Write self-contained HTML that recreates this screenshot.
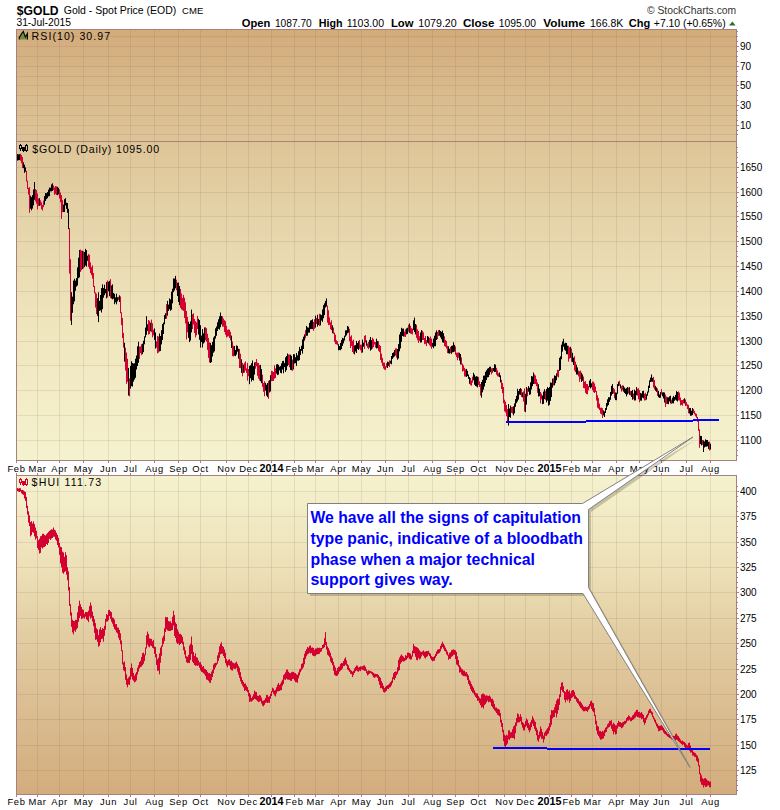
<!DOCTYPE html><html><head><meta charset="utf-8"><style>html,body{margin:0;padding:0;background:#fff;}svg{display:block;}text{font-family:"Liberation Sans",sans-serif;}.m{font-family:"Liberation Mono",monospace;}</style></head><body>
<svg width="780" height="810" viewBox="0 0 780 810">
<defs><linearGradient id="gt" x1="0" y1="0" x2="0" y2="1"><stop offset="0" stop-color="#d3ab7a"/><stop offset="0.14" stop-color="#d9ba8c"/><stop offset="0.35" stop-color="#e1cca0"/><stop offset="0.5" stop-color="#e8d8af"/><stop offset="0.7" stop-color="#f0e6be"/><stop offset="1" stop-color="#f5f2cf"/></linearGradient><linearGradient id="gb" x1="0" y1="0" x2="0" y2="1"><stop offset="0" stop-color="#f5f2cf"/><stop offset="0.3" stop-color="#eddfb6"/><stop offset="0.5" stop-color="#e2cda2"/><stop offset="0.75" stop-color="#dabc90"/><stop offset="1" stop-color="#d3ac7c"/></linearGradient></defs>
<rect width="780" height="810" fill="#fff"/>
<rect x="16" y="29" width="721" height="432" fill="url(#gt)"/>
<rect x="16" y="475" width="721" height="320" fill="url(#gb)"/>
<g shape-rendering="crispEdges"><rect x="17" y="134" width="719" height="1" fill="rgba(105,85,95,0.13)"/><rect x="17" y="125" width="719" height="1" fill="rgba(105,85,95,0.13)"/><rect x="17" y="115" width="719" height="1" fill="rgba(105,85,95,0.13)"/><rect x="17" y="105" width="719" height="1" fill="rgba(105,85,95,0.13)"/><rect x="17" y="95" width="719" height="1" fill="rgba(105,85,95,0.13)"/><rect x="17" y="85" width="719" height="1" fill="rgba(105,85,95,0.13)"/><rect x="17" y="76" width="719" height="1" fill="rgba(105,85,95,0.13)"/><rect x="17" y="66" width="719" height="1" fill="rgba(105,85,95,0.13)"/><rect x="17" y="56" width="719" height="1" fill="rgba(105,85,95,0.13)"/><rect x="17" y="46" width="719" height="1" fill="rgba(105,85,95,0.13)"/><rect x="17" y="36" width="719" height="1" fill="rgba(105,85,95,0.13)"/><rect x="17" y="167" width="719" height="1" fill="rgba(105,85,95,0.13)"/><rect x="17" y="192" width="719" height="1" fill="rgba(105,85,95,0.13)"/><rect x="17" y="216" width="719" height="1" fill="rgba(105,85,95,0.13)"/><rect x="17" y="241" width="719" height="1" fill="rgba(105,85,95,0.13)"/><rect x="17" y="266" width="719" height="1" fill="rgba(105,85,95,0.13)"/><rect x="17" y="291" width="719" height="1" fill="rgba(105,85,95,0.13)"/><rect x="17" y="316" width="719" height="1" fill="rgba(105,85,95,0.13)"/><rect x="17" y="341" width="719" height="1" fill="rgba(105,85,95,0.13)"/><rect x="17" y="365" width="719" height="1" fill="rgba(105,85,95,0.13)"/><rect x="17" y="390" width="719" height="1" fill="rgba(105,85,95,0.13)"/><rect x="17" y="415" width="719" height="1" fill="rgba(105,85,95,0.13)"/><rect x="17" y="440" width="719" height="1" fill="rgba(105,85,95,0.13)"/><rect x="17" y="491" width="719" height="1" fill="rgba(105,85,95,0.13)"/><rect x="17" y="516" width="719" height="1" fill="rgba(105,85,95,0.13)"/><rect x="17" y="542" width="719" height="1" fill="rgba(105,85,95,0.13)"/><rect x="17" y="567" width="719" height="1" fill="rgba(105,85,95,0.13)"/><rect x="17" y="592" width="719" height="1" fill="rgba(105,85,95,0.13)"/><rect x="17" y="618" width="719" height="1" fill="rgba(105,85,95,0.13)"/><rect x="17" y="643" width="719" height="1" fill="rgba(105,85,95,0.13)"/><rect x="17" y="669" width="719" height="1" fill="rgba(105,85,95,0.13)"/><rect x="17" y="694" width="719" height="1" fill="rgba(105,85,95,0.13)"/><rect x="17" y="719" width="719" height="1" fill="rgba(105,85,95,0.13)"/><rect x="17" y="745" width="719" height="1" fill="rgba(105,85,95,0.13)"/><rect x="17" y="770" width="719" height="1" fill="rgba(105,85,95,0.13)"/><rect x="37" y="30" width="1" height="430" fill="rgba(105,85,95,0.13)"/><rect x="37" y="476" width="1" height="318" fill="rgba(105,85,95,0.13)"/><rect x="59" y="30" width="1" height="430" fill="rgba(105,85,95,0.13)"/><rect x="59" y="476" width="1" height="318" fill="rgba(105,85,95,0.13)"/><rect x="83" y="30" width="1" height="430" fill="rgba(105,85,95,0.13)"/><rect x="83" y="476" width="1" height="318" fill="rgba(105,85,95,0.13)"/><rect x="108" y="30" width="1" height="430" fill="rgba(105,85,95,0.13)"/><rect x="108" y="476" width="1" height="318" fill="rgba(105,85,95,0.13)"/><rect x="130" y="30" width="1" height="430" fill="rgba(105,85,95,0.13)"/><rect x="130" y="476" width="1" height="318" fill="rgba(105,85,95,0.13)"/><rect x="154" y="30" width="1" height="430" fill="rgba(105,85,95,0.13)"/><rect x="154" y="476" width="1" height="318" fill="rgba(105,85,95,0.13)"/><rect x="178" y="30" width="1" height="430" fill="rgba(105,85,95,0.13)"/><rect x="178" y="476" width="1" height="318" fill="rgba(105,85,95,0.13)"/><rect x="200" y="30" width="1" height="430" fill="rgba(105,85,95,0.13)"/><rect x="200" y="476" width="1" height="318" fill="rgba(105,85,95,0.13)"/><rect x="226" y="30" width="1" height="430" fill="rgba(105,85,95,0.13)"/><rect x="226" y="476" width="1" height="318" fill="rgba(105,85,95,0.13)"/><rect x="248" y="30" width="1" height="430" fill="rgba(105,85,95,0.13)"/><rect x="248" y="476" width="1" height="318" fill="rgba(105,85,95,0.13)"/><rect x="271" y="30" width="1" height="430" fill="rgba(105,85,95,0.13)"/><rect x="271" y="476" width="1" height="318" fill="rgba(105,85,95,0.13)"/><rect x="294" y="30" width="1" height="430" fill="rgba(105,85,95,0.13)"/><rect x="294" y="476" width="1" height="318" fill="rgba(105,85,95,0.13)"/><rect x="315" y="30" width="1" height="430" fill="rgba(105,85,95,0.13)"/><rect x="315" y="476" width="1" height="318" fill="rgba(105,85,95,0.13)"/><rect x="338" y="30" width="1" height="430" fill="rgba(105,85,95,0.13)"/><rect x="338" y="476" width="1" height="318" fill="rgba(105,85,95,0.13)"/><rect x="361" y="30" width="1" height="430" fill="rgba(105,85,95,0.13)"/><rect x="361" y="476" width="1" height="318" fill="rgba(105,85,95,0.13)"/><rect x="385" y="30" width="1" height="430" fill="rgba(105,85,95,0.13)"/><rect x="385" y="476" width="1" height="318" fill="rgba(105,85,95,0.13)"/><rect x="408" y="30" width="1" height="430" fill="rgba(105,85,95,0.13)"/><rect x="408" y="476" width="1" height="318" fill="rgba(105,85,95,0.13)"/><rect x="432" y="30" width="1" height="430" fill="rgba(105,85,95,0.13)"/><rect x="432" y="476" width="1" height="318" fill="rgba(105,85,95,0.13)"/><rect x="455" y="30" width="1" height="430" fill="rgba(105,85,95,0.13)"/><rect x="455" y="476" width="1" height="318" fill="rgba(105,85,95,0.13)"/><rect x="478" y="30" width="1" height="430" fill="rgba(105,85,95,0.13)"/><rect x="478" y="476" width="1" height="318" fill="rgba(105,85,95,0.13)"/><rect x="504" y="30" width="1" height="430" fill="rgba(105,85,95,0.13)"/><rect x="504" y="476" width="1" height="318" fill="rgba(105,85,95,0.13)"/><rect x="525" y="30" width="1" height="430" fill="rgba(105,85,95,0.13)"/><rect x="525" y="476" width="1" height="318" fill="rgba(105,85,95,0.13)"/><rect x="549" y="30" width="1" height="430" fill="rgba(105,85,95,0.13)"/><rect x="549" y="476" width="1" height="318" fill="rgba(105,85,95,0.13)"/><rect x="571" y="30" width="1" height="430" fill="rgba(105,85,95,0.13)"/><rect x="571" y="476" width="1" height="318" fill="rgba(105,85,95,0.13)"/><rect x="592" y="30" width="1" height="430" fill="rgba(105,85,95,0.13)"/><rect x="592" y="476" width="1" height="318" fill="rgba(105,85,95,0.13)"/><rect x="616" y="30" width="1" height="430" fill="rgba(105,85,95,0.13)"/><rect x="616" y="476" width="1" height="318" fill="rgba(105,85,95,0.13)"/><rect x="639" y="30" width="1" height="430" fill="rgba(105,85,95,0.13)"/><rect x="639" y="476" width="1" height="318" fill="rgba(105,85,95,0.13)"/><rect x="661" y="30" width="1" height="430" fill="rgba(105,85,95,0.13)"/><rect x="661" y="476" width="1" height="318" fill="rgba(105,85,95,0.13)"/><rect x="686" y="30" width="1" height="430" fill="rgba(105,85,95,0.13)"/><rect x="686" y="476" width="1" height="318" fill="rgba(105,85,95,0.13)"/><rect x="710" y="30" width="1" height="430" fill="rgba(105,85,95,0.13)"/><rect x="710" y="476" width="1" height="318" fill="rgba(105,85,95,0.13)"/></g>
<g fill="#000"><rect x="17" y="154.0" width="1" height="6.6"/><rect x="18" y="154.4" width="1" height="5.8"/><rect x="19" y="154.1" width="1" height="6.0"/><rect x="23" y="162.3" width="1" height="5.9"/><rect x="24" y="164.7" width="1" height="8.1"/><rect x="25" y="167.4" width="1" height="4.3"/><rect x="30" y="195.7" width="1" height="13.0"/><rect x="31" y="197.0" width="1" height="13.4"/><rect x="32" y="195.1" width="1" height="13.5"/><rect x="33" y="189.5" width="1" height="15.8"/><rect x="34" y="182.0" width="1" height="17.7"/><rect x="39" y="198.2" width="1" height="7.6"/><rect x="44" y="196.1" width="1" height="8.7"/><rect x="45" y="193.0" width="1" height="8.0"/><rect x="46" y="193.2" width="1" height="5.9"/><rect x="47" y="192.1" width="1" height="6.1"/><rect x="48" y="189.6" width="1" height="6.8"/><rect x="49" y="187.5" width="1" height="8.6"/><rect x="50" y="187.7" width="1" height="3.7"/><rect x="51" y="184.4" width="1" height="6.9"/><rect x="52" y="183.3" width="1" height="7.6"/><rect x="57" y="186.8" width="1" height="8.4"/><rect x="58" y="187.8" width="1" height="6.5"/><rect x="63" y="204.6" width="1" height="7.4"/><rect x="64" y="199.2" width="1" height="12.8"/><rect x="65" y="198.2" width="1" height="7.2"/><rect x="66" y="202.7" width="1" height="6.2"/><rect x="67" y="203.1" width="1" height="9.7"/><rect x="68" y="208.8" width="1" height="20.3"/><rect x="71" y="292.2" width="1" height="32.7"/><rect x="72" y="296.7" width="1" height="16.1"/><rect x="73" y="280.6" width="1" height="23.7"/><rect x="74" y="278.7" width="1" height="22.7"/><rect x="75" y="280.6" width="1" height="10.2"/><rect x="76" y="278.1" width="1" height="8.5"/><rect x="77" y="267.4" width="1" height="18.1"/><rect x="78" y="257.7" width="1" height="20.5"/><rect x="79" y="250.0" width="1" height="27.4"/><rect x="82" y="250.7" width="1" height="18.4"/><rect x="84" y="252.0" width="1" height="15.1"/><rect x="85" y="248.8" width="1" height="16.7"/><rect x="86" y="250.1" width="1" height="16.4"/><rect x="87" y="255.7" width="1" height="5.2"/><rect x="97" y="298.2" width="1" height="17.6"/><rect x="98" y="292.2" width="1" height="29.9"/><rect x="99" y="300.9" width="1" height="9.9"/><rect x="100" y="295.0" width="1" height="15.4"/><rect x="101" y="288.1" width="1" height="24.4"/><rect x="102" y="284.4" width="1" height="24.7"/><rect x="103" y="288.0" width="1" height="9.7"/><rect x="104" y="284.7" width="1" height="10.5"/><rect x="105" y="289.0" width="1" height="4.2"/><rect x="106" y="282.1" width="1" height="16.2"/><rect x="108" y="281.8" width="1" height="9.5"/><rect x="109" y="280.9" width="1" height="15.2"/><rect x="111" y="285.5" width="1" height="13.0"/><rect x="112" y="284.4" width="1" height="14.9"/><rect x="113" y="292.9" width="1" height="5.8"/><rect x="114" y="293.8" width="1" height="10.4"/><rect x="115" y="297.4" width="1" height="4.9"/><rect x="116" y="293.7" width="1" height="10.6"/><rect x="117" y="297.2" width="1" height="4.2"/><rect x="119" y="295.3" width="1" height="6.7"/><rect x="124" y="342.7" width="1" height="18.9"/><rect x="128" y="367.9" width="1" height="27.6"/><rect x="130" y="366.0" width="1" height="22.6"/><rect x="131" y="361.3" width="1" height="24.8"/><rect x="132" y="362.9" width="1" height="23.7"/><rect x="133" y="363.5" width="1" height="18.1"/><rect x="134" y="363.3" width="1" height="16.3"/><rect x="135" y="358.7" width="1" height="19.1"/><rect x="136" y="355.5" width="1" height="14.0"/><rect x="137" y="346.3" width="1" height="19.7"/><rect x="138" y="341.7" width="1" height="21.1"/><rect x="142" y="343.7" width="1" height="10.4"/><rect x="143" y="340.7" width="1" height="11.4"/><rect x="144" y="336.4" width="1" height="7.9"/><rect x="145" y="327.6" width="1" height="9.8"/><rect x="146" y="316.2" width="1" height="18.6"/><rect x="147" y="324.3" width="1" height="6.6"/><rect x="150" y="322.7" width="1" height="8.6"/><rect x="154" y="328.4" width="1" height="11.5"/><rect x="155" y="332.5" width="1" height="16.0"/><rect x="159" y="333.5" width="1" height="17.9"/><rect x="160" y="336.0" width="1" height="15.0"/><rect x="161" y="330.2" width="1" height="14.2"/><rect x="162" y="324.1" width="1" height="15.8"/><rect x="163" y="322.6" width="1" height="11.4"/><rect x="164" y="315.1" width="1" height="9.2"/><rect x="165" y="313.2" width="1" height="5.6"/><rect x="167" y="300.9" width="1" height="14.7"/><rect x="168" y="304.6" width="1" height="6.3"/><rect x="169" y="298.4" width="1" height="10.7"/><rect x="170" y="299.4" width="1" height="11.4"/><rect x="171" y="291.7" width="1" height="18.1"/><rect x="172" y="288.7" width="1" height="14.6"/><rect x="173" y="278.4" width="1" height="13.7"/><rect x="174" y="278.6" width="1" height="11.9"/><rect x="175" y="275.9" width="1" height="12.4"/><rect x="177" y="282.7" width="1" height="13.3"/><rect x="178" y="282.6" width="1" height="19.4"/><rect x="179" y="286.0" width="1" height="19.2"/><rect x="188" y="321.7" width="1" height="16.2"/><rect x="189" y="324.0" width="1" height="18.1"/><rect x="190" y="321.4" width="1" height="19.1"/><rect x="191" y="309.6" width="1" height="22.8"/><rect x="198" y="318.8" width="1" height="15.6"/><rect x="199" y="320.0" width="1" height="19.8"/><rect x="200" y="325.2" width="1" height="22.4"/><rect x="201" y="335.6" width="1" height="6.5"/><rect x="202" y="329.1" width="1" height="18.4"/><rect x="203" y="333.3" width="1" height="10.2"/><rect x="204" y="327.5" width="1" height="14.9"/><rect x="210" y="342.9" width="1" height="20.1"/><rect x="211" y="345.2" width="1" height="16.9"/><rect x="212" y="341.9" width="1" height="14.6"/><rect x="213" y="337.5" width="1" height="15.2"/><rect x="214" y="336.1" width="1" height="15.2"/><rect x="215" y="328.3" width="1" height="10.3"/><rect x="216" y="326.5" width="1" height="9.3"/><rect x="217" y="322.3" width="1" height="8.7"/><rect x="218" y="319.3" width="1" height="9.5"/><rect x="219" y="316.4" width="1" height="13.2"/><rect x="220" y="312.5" width="1" height="14.7"/><rect x="221" y="316.0" width="1" height="8.3"/><rect x="231" y="335.6" width="1" height="12.4"/><rect x="234" y="346.0" width="1" height="9.7"/><rect x="235" y="350.0" width="1" height="6.1"/><rect x="236" y="345.4" width="1" height="9.2"/><rect x="237" y="345.9" width="1" height="5.8"/><rect x="238" y="348.7" width="1" height="10.0"/><rect x="241" y="359.3" width="1" height="13.6"/><rect x="243" y="364.6" width="1" height="8.2"/><rect x="249" y="365.9" width="1" height="18.3"/><rect x="250" y="365.2" width="1" height="13.1"/><rect x="251" y="363.3" width="1" height="18.2"/><rect x="252" y="360.5" width="1" height="19.5"/><rect x="253" y="366.1" width="1" height="14.4"/><rect x="254" y="362.5" width="1" height="12.1"/><rect x="260" y="364.8" width="1" height="16.4"/><rect x="261" y="369.0" width="1" height="14.2"/><rect x="265" y="382.8" width="1" height="7.9"/><rect x="266" y="384.7" width="1" height="10.9"/><rect x="267" y="383.0" width="1" height="14.1"/><rect x="269" y="380.2" width="1" height="12.3"/><rect x="270" y="375.2" width="1" height="16.3"/><rect x="276" y="364.4" width="1" height="9.2"/><rect x="277" y="364.1" width="1" height="11.0"/><rect x="278" y="364.8" width="1" height="9.8"/><rect x="279" y="366.7" width="1" height="3.7"/><rect x="280" y="366.1" width="1" height="6.7"/><rect x="281" y="363.4" width="1" height="9.9"/><rect x="282" y="361.1" width="1" height="8.4"/><rect x="283" y="360.8" width="1" height="12.5"/><rect x="284" y="363.1" width="1" height="4.0"/><rect x="285" y="357.3" width="1" height="14.6"/><rect x="286" y="356.0" width="1" height="14.2"/><rect x="287" y="353.5" width="1" height="12.7"/><rect x="290" y="354.7" width="1" height="15.2"/><rect x="291" y="355.8" width="1" height="14.4"/><rect x="293" y="354.1" width="1" height="15.3"/><rect x="294" y="354.3" width="1" height="9.2"/><rect x="295" y="357.2" width="1" height="6.0"/><rect x="296" y="353.0" width="1" height="12.9"/><rect x="297" y="355.3" width="1" height="5.3"/><rect x="298" y="351.2" width="1" height="9.6"/><rect x="299" y="346.9" width="1" height="13.2"/><rect x="300" y="349.0" width="1" height="6.0"/><rect x="301" y="345.7" width="1" height="5.1"/><rect x="302" y="339.4" width="1" height="14.2"/><rect x="303" y="336.7" width="1" height="12.3"/><rect x="304" y="334.4" width="1" height="6.2"/><rect x="306" y="325.9" width="1" height="9.9"/><rect x="307" y="327.3" width="1" height="8.4"/><rect x="308" y="327.6" width="1" height="5.1"/><rect x="309" y="322.8" width="1" height="9.8"/><rect x="310" y="320.5" width="1" height="8.6"/><rect x="311" y="320.1" width="1" height="8.8"/><rect x="312" y="319.3" width="1" height="9.8"/><rect x="315" y="315.7" width="1" height="11.9"/><rect x="317" y="314.7" width="1" height="11.9"/><rect x="318" y="318.9" width="1" height="6.0"/><rect x="320" y="314.3" width="1" height="11.1"/><rect x="321" y="315.1" width="1" height="5.4"/><rect x="322" y="309.4" width="1" height="12.5"/><rect x="323" y="305.1" width="1" height="13.2"/><rect x="324" y="303.3" width="1" height="11.8"/><rect x="325" y="300.9" width="1" height="6.6"/><rect x="326" y="298.4" width="1" height="8.1"/><rect x="332" y="325.4" width="1" height="7.8"/><rect x="338" y="344.2" width="1" height="6.1"/><rect x="339" y="346.0" width="1" height="3.9"/><rect x="340" y="342.9" width="1" height="7.4"/><rect x="341" y="339.9" width="1" height="9.2"/><rect x="342" y="337.8" width="1" height="8.1"/><rect x="343" y="338.4" width="1" height="5.0"/><rect x="344" y="335.7" width="1" height="4.9"/><rect x="345" y="330.4" width="1" height="6.3"/><rect x="346" y="330.2" width="1" height="5.2"/><rect x="347" y="326.0" width="1" height="7.3"/><rect x="348" y="326.7" width="1" height="5.9"/><rect x="354" y="345.5" width="1" height="8.9"/><rect x="355" y="345.1" width="1" height="6.4"/><rect x="356" y="340.9" width="1" height="12.1"/><rect x="357" y="343.0" width="1" height="5.9"/><rect x="358" y="341.2" width="1" height="8.8"/><rect x="362" y="339.6" width="1" height="12.9"/><rect x="363" y="342.7" width="1" height="4.0"/><rect x="366" y="340.4" width="1" height="5.3"/><rect x="369" y="339.8" width="1" height="7.8"/><rect x="370" y="337.0" width="1" height="13.7"/><rect x="371" y="340.1" width="1" height="9.4"/><rect x="376" y="338.7" width="1" height="9.7"/><rect x="377" y="341.0" width="1" height="7.2"/><rect x="387" y="361.6" width="1" height="6.3"/><rect x="388" y="362.1" width="1" height="3.7"/><rect x="390" y="360.7" width="1" height="2.9"/><rect x="391" y="356.0" width="1" height="8.3"/><rect x="392" y="353.0" width="1" height="5.9"/><rect x="393" y="352.3" width="1" height="5.2"/><rect x="394" y="350.0" width="1" height="6.4"/><rect x="397" y="349.0" width="1" height="10.7"/><rect x="398" y="344.1" width="1" height="14.4"/><rect x="399" y="334.5" width="1" height="16.8"/><rect x="400" y="332.0" width="1" height="16.4"/><rect x="401" y="327.8" width="1" height="14.0"/><rect x="402" y="328.7" width="1" height="7.2"/><rect x="403" y="328.5" width="1" height="8.1"/><rect x="406" y="328.4" width="1" height="6.0"/><rect x="407" y="327.7" width="1" height="6.2"/><rect x="409" y="323.5" width="1" height="9.3"/><rect x="413" y="320.3" width="1" height="9.7"/><rect x="414" y="317.6" width="1" height="14.5"/><rect x="415" y="324.0" width="1" height="10.4"/><rect x="420" y="332.5" width="1" height="10.1"/><rect x="421" y="330.1" width="1" height="12.2"/><rect x="427" y="336.0" width="1" height="6.7"/><rect x="428" y="336.7" width="1" height="6.8"/><rect x="432" y="342.9" width="1" height="3.8"/><rect x="433" y="338.6" width="1" height="9.6"/><rect x="434" y="335.7" width="1" height="10.6"/><rect x="435" y="332.5" width="1" height="13.7"/><rect x="436" y="330.4" width="1" height="9.6"/><rect x="439" y="330.0" width="1" height="5.7"/><rect x="440" y="331.0" width="1" height="6.4"/><rect x="441" y="331.8" width="1" height="7.5"/><rect x="442" y="330.6" width="1" height="11.7"/><rect x="443" y="333.2" width="1" height="9.5"/><rect x="448" y="346.3" width="1" height="7.0"/><rect x="449" y="348.8" width="1" height="4.8"/><rect x="451" y="345.9" width="1" height="7.9"/><rect x="452" y="345.6" width="1" height="6.7"/><rect x="453" y="342.2" width="1" height="9.9"/><rect x="454" y="344.9" width="1" height="6.7"/><rect x="459" y="352.8" width="1" height="7.8"/><rect x="460" y="354.0" width="1" height="10.4"/><rect x="466" y="368.9" width="1" height="8.0"/><rect x="467" y="370.8" width="1" height="5.3"/><rect x="468" y="374.5" width="1" height="4.3"/><rect x="469" y="377.1" width="1" height="6.7"/><rect x="473" y="372.8" width="1" height="7.5"/><rect x="474" y="374.6" width="1" height="10.1"/><rect x="475" y="376.7" width="1" height="9.3"/><rect x="476" y="376.1" width="1" height="10.4"/><rect x="477" y="376.6" width="1" height="10.8"/><rect x="481" y="382.0" width="1" height="15.6"/><rect x="482" y="379.9" width="1" height="12.4"/><rect x="483" y="375.7" width="1" height="14.0"/><rect x="484" y="375.5" width="1" height="11.0"/><rect x="485" y="371.8" width="1" height="11.2"/><rect x="486" y="370.3" width="1" height="9.7"/><rect x="487" y="368.7" width="1" height="8.7"/><rect x="488" y="368.1" width="1" height="9.0"/><rect x="489" y="366.8" width="1" height="8.1"/><rect x="490" y="366.7" width="1" height="5.5"/><rect x="493" y="368.0" width="1" height="3.2"/><rect x="494" y="364.2" width="1" height="7.8"/><rect x="495" y="364.6" width="1" height="7.3"/><rect x="499" y="372.5" width="1" height="4.6"/><rect x="500" y="375.3" width="1" height="7.2"/><rect x="508" y="404.0" width="1" height="21.6"/><rect x="509" y="408.5" width="1" height="8.5"/><rect x="510" y="405.6" width="1" height="12.2"/><rect x="513" y="406.3" width="1" height="9.0"/><rect x="514" y="403.4" width="1" height="9.9"/><rect x="515" y="399.1" width="1" height="7.7"/><rect x="516" y="395.8" width="1" height="7.4"/><rect x="517" y="388.8" width="1" height="12.7"/><rect x="518" y="390.9" width="1" height="8.7"/><rect x="519" y="389.0" width="1" height="5.6"/><rect x="520" y="388.1" width="1" height="6.8"/><rect x="522" y="392.4" width="1" height="4.9"/><rect x="525" y="393.8" width="1" height="18.3"/><rect x="526" y="387.1" width="1" height="17.5"/><rect x="528" y="386.1" width="1" height="5.6"/><rect x="529" y="387.6" width="1" height="7.3"/><rect x="530" y="382.3" width="1" height="12.0"/><rect x="531" y="376.0" width="1" height="13.5"/><rect x="532" y="376.5" width="1" height="9.7"/><rect x="533" y="372.5" width="1" height="11.5"/><rect x="538" y="384.2" width="1" height="12.3"/><rect x="539" y="388.7" width="1" height="7.5"/><rect x="542" y="395.5" width="1" height="8.7"/><rect x="543" y="391.6" width="1" height="12.2"/><rect x="544" y="389.2" width="1" height="9.9"/><rect x="546" y="389.0" width="1" height="13.4"/><rect x="547" y="387.1" width="1" height="13.5"/><rect x="548" y="388.1" width="1" height="17.6"/><rect x="549" y="386.9" width="1" height="17.9"/><rect x="550" y="382.4" width="1" height="18.5"/><rect x="551" y="382.8" width="1" height="14.3"/><rect x="552" y="378.6" width="1" height="9.1"/><rect x="554" y="375.4" width="1" height="9.9"/><rect x="555" y="375.9" width="1" height="7.3"/><rect x="556" y="373.4" width="1" height="6.9"/><rect x="559" y="357.8" width="1" height="13.1"/><rect x="560" y="356.4" width="1" height="13.6"/><rect x="561" y="344.7" width="1" height="14.5"/><rect x="562" y="341.5" width="1" height="10.1"/><rect x="563" y="338.8" width="1" height="7.9"/><rect x="564" y="343.5" width="1" height="6.2"/><rect x="565" y="342.7" width="1" height="8.2"/><rect x="566" y="343.0" width="1" height="11.2"/><rect x="567" y="345.6" width="1" height="8.7"/><rect x="570" y="346.8" width="1" height="11.0"/><rect x="572" y="352.8" width="1" height="9.3"/><rect x="573" y="357.6" width="1" height="7.4"/><rect x="576" y="364.7" width="1" height="9.8"/><rect x="577" y="367.4" width="1" height="7.2"/><rect x="581" y="372.6" width="1" height="9.3"/><rect x="582" y="374.4" width="1" height="6.4"/><rect x="589" y="380.6" width="1" height="6.5"/><rect x="590" y="379.0" width="1" height="9.4"/><rect x="591" y="383.3" width="1" height="4.0"/><rect x="603" y="410.4" width="1" height="5.0"/><rect x="604" y="411.4" width="1" height="5.6"/><rect x="605" y="408.0" width="1" height="5.0"/><rect x="606" y="403.0" width="1" height="6.9"/><rect x="607" y="399.3" width="1" height="7.1"/><rect x="608" y="397.2" width="1" height="7.8"/><rect x="609" y="397.3" width="1" height="4.5"/><rect x="610" y="392.0" width="1" height="7.8"/><rect x="611" y="385.8" width="1" height="9.8"/><rect x="612" y="384.1" width="1" height="9.9"/><rect x="615" y="392.4" width="1" height="7.7"/><rect x="616" y="392.7" width="1" height="7.5"/><rect x="617" y="384.1" width="1" height="9.7"/><rect x="618" y="381.8" width="1" height="4.3"/><rect x="620" y="384.4" width="1" height="4.1"/><rect x="623" y="385.7" width="1" height="6.0"/><rect x="624" y="387.5" width="1" height="5.4"/><rect x="625" y="388.7" width="1" height="5.3"/><rect x="626" y="388.1" width="1" height="8.3"/><rect x="627" y="387.0" width="1" height="7.4"/><rect x="629" y="387.2" width="1" height="7.6"/><rect x="631" y="391.0" width="1" height="6.0"/><rect x="632" y="389.9" width="1" height="9.8"/><rect x="634" y="389.6" width="1" height="10.9"/><rect x="635" y="390.9" width="1" height="9.5"/><rect x="636" y="387.1" width="1" height="8.1"/><rect x="640" y="392.9" width="1" height="7.7"/><rect x="641" y="393.5" width="1" height="7.2"/><rect x="642" y="391.1" width="1" height="6.5"/><rect x="643" y="390.8" width="1" height="7.6"/><rect x="646" y="394.3" width="1" height="5.3"/><rect x="647" y="391.5" width="1" height="4.2"/><rect x="648" y="385.6" width="1" height="6.9"/><rect x="649" y="380.4" width="1" height="7.6"/><rect x="650" y="377.6" width="1" height="4.4"/><rect x="651" y="374.5" width="1" height="7.2"/><rect x="652" y="377.9" width="1" height="3.9"/><rect x="655" y="385.7" width="1" height="5.0"/><rect x="656" y="387.4" width="1" height="4.4"/><rect x="658" y="390.9" width="1" height="6.3"/><rect x="659" y="394.4" width="1" height="3.5"/><rect x="660" y="392.1" width="1" height="5.6"/><rect x="662" y="392.4" width="1" height="3.9"/><rect x="663" y="392.2" width="1" height="6.3"/><rect x="664" y="392.5" width="1" height="10.0"/><rect x="667" y="397.3" width="1" height="6.5"/><rect x="668" y="397.4" width="1" height="6.8"/><rect x="669" y="396.3" width="1" height="5.2"/><rect x="670" y="395.7" width="1" height="7.7"/><rect x="672" y="397.7" width="1" height="5.5"/><rect x="673" y="395.9" width="1" height="7.5"/><rect x="674" y="397.0" width="1" height="3.9"/><rect x="675" y="394.9" width="1" height="4.8"/><rect x="676" y="391.1" width="1" height="9.5"/><rect x="677" y="392.0" width="1" height="9.5"/><rect x="684" y="398.2" width="1" height="5.3"/><rect x="689" y="407.9" width="1" height="5.7"/><rect x="690" y="408.0" width="1" height="7.8"/><rect x="691" y="410.7" width="1" height="4.9"/><rect x="692" y="408.0" width="1" height="7.0"/><rect x="700" y="435.8" width="1" height="8.3"/><rect x="701" y="436.1" width="1" height="9.4"/><rect x="703" y="440.4" width="1" height="11.6"/><rect x="704" y="441.4" width="1" height="6.1"/><rect x="705" y="439.3" width="1" height="7.4"/><rect x="706" y="440.0" width="1" height="6.7"/><rect x="707" y="440.0" width="1" height="6.3"/><rect x="708" y="441.8" width="1" height="7.1"/><rect x="710" y="443.6" width="1" height="6.0"/></g>
<g fill="#d40032"><rect x="20" y="153.8" width="1" height="6.9"/><rect x="21" y="155.0" width="1" height="8.3"/><rect x="22" y="157.0" width="1" height="10.9"/><rect x="26" y="170.8" width="1" height="10.8"/><rect x="27" y="180.6" width="1" height="8.4"/><rect x="28" y="187.9" width="1" height="6.7"/><rect x="29" y="187.2" width="1" height="25.6"/><rect x="35" y="189.1" width="1" height="12.4"/><rect x="36" y="190.0" width="1" height="13.7"/><rect x="37" y="193.5" width="1" height="15.9"/><rect x="38" y="198.4" width="1" height="7.5"/><rect x="40" y="200.3" width="1" height="5.2"/><rect x="41" y="202.4" width="1" height="6.8"/><rect x="42" y="205.0" width="1" height="5.5"/><rect x="43" y="200.6" width="1" height="6.5"/><rect x="53" y="185.5" width="1" height="4.6"/><rect x="54" y="187.4" width="1" height="7.5"/><rect x="55" y="186.1" width="1" height="7.8"/><rect x="56" y="186.3" width="1" height="8.7"/><rect x="59" y="189.3" width="1" height="9.2"/><rect x="60" y="192.6" width="1" height="9.7"/><rect x="61" y="195.1" width="1" height="23.8"/><rect x="62" y="200.1" width="1" height="12.2"/><rect x="69" y="228.1" width="1" height="45.5"/><rect x="70" y="259.2" width="1" height="61.5"/><rect x="80" y="249.6" width="1" height="22.3"/><rect x="81" y="250.7" width="1" height="19.5"/><rect x="83" y="251.3" width="1" height="17.0"/><rect x="88" y="254.0" width="1" height="12.9"/><rect x="89" y="254.8" width="1" height="14.2"/><rect x="90" y="262.4" width="1" height="10.7"/><rect x="91" y="267.2" width="1" height="7.9"/><rect x="92" y="265.4" width="1" height="13.1"/><rect x="93" y="273.0" width="1" height="14.0"/><rect x="94" y="286.0" width="1" height="7.4"/><rect x="95" y="292.4" width="1" height="15.2"/><rect x="96" y="293.6" width="1" height="20.4"/><rect x="107" y="280.4" width="1" height="17.1"/><rect x="110" y="279.1" width="1" height="18.8"/><rect x="118" y="296.9" width="1" height="3.2"/><rect x="120" y="296.4" width="1" height="16.9"/><rect x="121" y="312.3" width="1" height="12.8"/><rect x="122" y="318.0" width="1" height="20.0"/><rect x="123" y="332.9" width="1" height="14.8"/><rect x="125" y="347.6" width="1" height="22.9"/><rect x="126" y="352.5" width="1" height="31.4"/><rect x="127" y="358.7" width="1" height="23.1"/><rect x="129" y="378.4" width="1" height="17.9"/><rect x="139" y="346.5" width="1" height="12.4"/><rect x="140" y="346.5" width="1" height="6.7"/><rect x="141" y="344.2" width="1" height="11.0"/><rect x="148" y="320.0" width="1" height="14.6"/><rect x="149" y="320.7" width="1" height="13.3"/><rect x="151" y="319.6" width="1" height="12.7"/><rect x="152" y="323.2" width="1" height="14.1"/><rect x="153" y="329.7" width="1" height="5.6"/><rect x="156" y="341.4" width="1" height="6.3"/><rect x="157" y="335.9" width="1" height="17.4"/><rect x="158" y="336.5" width="1" height="16.1"/><rect x="166" y="304.2" width="1" height="14.6"/><rect x="176" y="279.7" width="1" height="10.6"/><rect x="180" y="288.9" width="1" height="19.0"/><rect x="181" y="293.4" width="1" height="16.1"/><rect x="182" y="297.8" width="1" height="12.5"/><rect x="183" y="294.9" width="1" height="16.0"/><rect x="184" y="297.8" width="1" height="20.2"/><rect x="185" y="302.4" width="1" height="21.1"/><rect x="186" y="311.0" width="1" height="28.5"/><rect x="187" y="316.8" width="1" height="15.5"/><rect x="192" y="314.2" width="1" height="14.8"/><rect x="193" y="313.3" width="1" height="11.2"/><rect x="194" y="318.9" width="1" height="14.1"/><rect x="195" y="321.2" width="1" height="16.2"/><rect x="196" y="322.3" width="1" height="13.0"/><rect x="197" y="315.9" width="1" height="13.1"/><rect x="205" y="327.2" width="1" height="13.1"/><rect x="206" y="328.1" width="1" height="13.5"/><rect x="207" y="333.8" width="1" height="16.1"/><rect x="208" y="337.9" width="1" height="20.0"/><rect x="209" y="342.3" width="1" height="20.2"/><rect x="222" y="316.3" width="1" height="10.3"/><rect x="223" y="318.5" width="1" height="8.2"/><rect x="224" y="320.1" width="1" height="11.9"/><rect x="225" y="321.2" width="1" height="13.6"/><rect x="226" y="325.8" width="1" height="11.6"/><rect x="227" y="329.9" width="1" height="6.7"/><rect x="228" y="329.4" width="1" height="7.0"/><rect x="229" y="329.7" width="1" height="8.3"/><rect x="230" y="331.8" width="1" height="8.6"/><rect x="232" y="341.4" width="1" height="14.6"/><rect x="233" y="345.7" width="1" height="10.8"/><rect x="239" y="349.0" width="1" height="19.0"/><rect x="240" y="353.7" width="1" height="14.5"/><rect x="242" y="362.9" width="1" height="13.4"/><rect x="244" y="362.7" width="1" height="10.0"/><rect x="245" y="361.4" width="1" height="9.1"/><rect x="246" y="368.4" width="1" height="4.4"/><rect x="247" y="362.9" width="1" height="17.8"/><rect x="248" y="369.0" width="1" height="7.2"/><rect x="255" y="362.0" width="1" height="6.7"/><rect x="256" y="359.0" width="1" height="7.3"/><rect x="257" y="362.6" width="1" height="13.2"/><rect x="258" y="363.1" width="1" height="15.5"/><rect x="259" y="365.0" width="1" height="15.5"/><rect x="262" y="374.7" width="1" height="12.2"/><rect x="263" y="383.0" width="1" height="8.8"/><rect x="264" y="381.2" width="1" height="15.1"/><rect x="268" y="380.9" width="1" height="17.9"/><rect x="271" y="370.9" width="1" height="10.2"/><rect x="272" y="371.2" width="1" height="9.8"/><rect x="273" y="372.0" width="1" height="8.9"/><rect x="274" y="365.3" width="1" height="13.3"/><rect x="275" y="368.4" width="1" height="9.6"/><rect x="288" y="354.4" width="1" height="10.6"/><rect x="289" y="354.5" width="1" height="12.8"/><rect x="292" y="359.6" width="1" height="11.2"/><rect x="305" y="330.1" width="1" height="8.2"/><rect x="313" y="322.0" width="1" height="8.8"/><rect x="314" y="319.2" width="1" height="9.6"/><rect x="316" y="317.9" width="1" height="6.1"/><rect x="319" y="313.8" width="1" height="12.1"/><rect x="327" y="305.6" width="1" height="17.1"/><rect x="328" y="310.2" width="1" height="14.9"/><rect x="329" y="317.4" width="1" height="7.4"/><rect x="330" y="322.3" width="1" height="7.0"/><rect x="331" y="320.3" width="1" height="9.9"/><rect x="333" y="327.6" width="1" height="6.3"/><rect x="334" y="332.7" width="1" height="9.2"/><rect x="335" y="334.7" width="1" height="9.4"/><rect x="336" y="340.3" width="1" height="4.0"/><rect x="337" y="341.2" width="1" height="4.0"/><rect x="349" y="328.8" width="1" height="12.5"/><rect x="350" y="336.5" width="1" height="11.5"/><rect x="351" y="335.3" width="1" height="10.6"/><rect x="352" y="340.8" width="1" height="11.2"/><rect x="353" y="339.6" width="1" height="14.0"/><rect x="359" y="340.0" width="1" height="8.7"/><rect x="360" y="344.6" width="1" height="5.7"/><rect x="361" y="344.6" width="1" height="8.3"/><rect x="364" y="335.8" width="1" height="13.1"/><rect x="365" y="335.1" width="1" height="7.5"/><rect x="367" y="343.5" width="1" height="4.3"/><rect x="368" y="341.8" width="1" height="7.4"/><rect x="372" y="337.6" width="1" height="11.0"/><rect x="373" y="339.1" width="1" height="8.0"/><rect x="374" y="341.7" width="1" height="2.8"/><rect x="375" y="342.1" width="1" height="5.5"/><rect x="378" y="341.2" width="1" height="9.6"/><rect x="379" y="344.9" width="1" height="7.2"/><rect x="380" y="346.0" width="1" height="13.9"/><rect x="381" y="353.6" width="1" height="9.1"/><rect x="382" y="357.9" width="1" height="8.0"/><rect x="383" y="362.5" width="1" height="6.0"/><rect x="384" y="362.6" width="1" height="7.0"/><rect x="385" y="366.2" width="1" height="3.9"/><rect x="386" y="363.2" width="1" height="4.3"/><rect x="389" y="360.3" width="1" height="6.8"/><rect x="395" y="348.3" width="1" height="7.3"/><rect x="396" y="348.4" width="1" height="9.2"/><rect x="404" y="331.5" width="1" height="5.1"/><rect x="405" y="329.3" width="1" height="7.7"/><rect x="408" y="324.7" width="1" height="7.0"/><rect x="410" y="325.8" width="1" height="7.9"/><rect x="411" y="328.2" width="1" height="5.7"/><rect x="412" y="328.7" width="1" height="5.8"/><rect x="416" y="324.8" width="1" height="13.1"/><rect x="417" y="329.3" width="1" height="10.9"/><rect x="418" y="331.0" width="1" height="12.0"/><rect x="419" y="336.2" width="1" height="4.6"/><rect x="422" y="330.9" width="1" height="9.1"/><rect x="423" y="332.4" width="1" height="7.5"/><rect x="424" y="338.0" width="1" height="6.2"/><rect x="425" y="336.1" width="1" height="7.7"/><rect x="426" y="340.2" width="1" height="5.9"/><rect x="429" y="338.0" width="1" height="7.3"/><rect x="430" y="336.5" width="1" height="10.0"/><rect x="431" y="338.6" width="1" height="10.2"/><rect x="437" y="331.9" width="1" height="7.2"/><rect x="438" y="330.0" width="1" height="5.9"/><rect x="444" y="336.3" width="1" height="9.8"/><rect x="445" y="339.9" width="1" height="6.9"/><rect x="446" y="341.0" width="1" height="7.5"/><rect x="447" y="345.7" width="1" height="7.4"/><rect x="450" y="346.9" width="1" height="6.3"/><rect x="455" y="346.5" width="1" height="8.3"/><rect x="456" y="352.7" width="1" height="4.4"/><rect x="457" y="352.6" width="1" height="7.6"/><rect x="458" y="352.4" width="1" height="5.4"/><rect x="461" y="357.4" width="1" height="7.4"/><rect x="462" y="363.6" width="1" height="8.0"/><rect x="463" y="365.2" width="1" height="5.7"/><rect x="464" y="367.8" width="1" height="8.7"/><rect x="465" y="369.3" width="1" height="7.3"/><rect x="470" y="378.0" width="1" height="7.1"/><rect x="471" y="380.5" width="1" height="5.2"/><rect x="472" y="376.7" width="1" height="6.0"/><rect x="478" y="376.9" width="1" height="8.1"/><rect x="479" y="381.2" width="1" height="5.7"/><rect x="480" y="384.0" width="1" height="11.5"/><rect x="491" y="368.3" width="1" height="6.1"/><rect x="492" y="368.1" width="1" height="4.7"/><rect x="496" y="367.8" width="1" height="6.9"/><rect x="497" y="370.3" width="1" height="6.0"/><rect x="498" y="373.3" width="1" height="3.3"/><rect x="501" y="379.8" width="1" height="9.2"/><rect x="502" y="383.0" width="1" height="10.2"/><rect x="503" y="387.0" width="1" height="16.3"/><rect x="504" y="399.6" width="1" height="11.7"/><rect x="505" y="401.6" width="1" height="10.9"/><rect x="506" y="405.0" width="1" height="11.2"/><rect x="507" y="409.0" width="1" height="14.0"/><rect x="511" y="406.9" width="1" height="5.9"/><rect x="512" y="406.8" width="1" height="6.8"/><rect x="521" y="388.9" width="1" height="8.0"/><rect x="523" y="391.4" width="1" height="10.2"/><rect x="524" y="388.4" width="1" height="23.1"/><rect x="527" y="388.4" width="1" height="7.9"/><rect x="534" y="374.3" width="1" height="9.6"/><rect x="535" y="375.5" width="1" height="8.6"/><rect x="536" y="379.0" width="1" height="7.2"/><rect x="537" y="382.5" width="1" height="10.3"/><rect x="540" y="392.0" width="1" height="11.4"/><rect x="541" y="393.6" width="1" height="5.8"/><rect x="545" y="391.1" width="1" height="8.8"/><rect x="553" y="378.4" width="1" height="7.2"/><rect x="557" y="369.8" width="1" height="6.8"/><rect x="558" y="369.9" width="1" height="7.6"/><rect x="568" y="345.8" width="1" height="15.8"/><rect x="569" y="347.4" width="1" height="11.2"/><rect x="571" y="348.6" width="1" height="13.2"/><rect x="574" y="356.2" width="1" height="14.4"/><rect x="575" y="361.6" width="1" height="10.5"/><rect x="578" y="370.6" width="1" height="5.8"/><rect x="579" y="371.1" width="1" height="10.8"/><rect x="580" y="370.6" width="1" height="8.5"/><rect x="583" y="376.6" width="1" height="11.4"/><rect x="584" y="381.7" width="1" height="6.7"/><rect x="585" y="381.1" width="1" height="11.8"/><rect x="586" y="384.0" width="1" height="10.1"/><rect x="587" y="384.0" width="1" height="10.3"/><rect x="588" y="386.1" width="1" height="4.3"/><rect x="592" y="381.6" width="1" height="8.6"/><rect x="593" y="381.7" width="1" height="10.4"/><rect x="594" y="383.4" width="1" height="9.6"/><rect x="595" y="386.5" width="1" height="5.5"/><rect x="596" y="391.0" width="1" height="9.6"/><rect x="597" y="395.2" width="1" height="12.5"/><rect x="598" y="397.9" width="1" height="10.8"/><rect x="599" y="403.6" width="1" height="6.4"/><rect x="600" y="407.8" width="1" height="5.8"/><rect x="601" y="407.6" width="1" height="6.8"/><rect x="602" y="408.2" width="1" height="9.8"/><rect x="613" y="387.9" width="1" height="5.6"/><rect x="614" y="389.2" width="1" height="9.0"/><rect x="619" y="380.7" width="1" height="5.1"/><rect x="621" y="386.2" width="1" height="5.4"/><rect x="622" y="385.2" width="1" height="5.2"/><rect x="628" y="387.6" width="1" height="5.9"/><rect x="630" y="390.9" width="1" height="4.5"/><rect x="633" y="393.5" width="1" height="5.7"/><rect x="637" y="388.7" width="1" height="6.9"/><rect x="638" y="388.2" width="1" height="11.1"/><rect x="639" y="390.1" width="1" height="12.2"/><rect x="644" y="393.7" width="1" height="6.8"/><rect x="645" y="392.8" width="1" height="7.5"/><rect x="653" y="376.8" width="1" height="10.8"/><rect x="654" y="380.0" width="1" height="9.6"/><rect x="657" y="388.4" width="1" height="7.5"/><rect x="661" y="389.1" width="1" height="5.3"/><rect x="665" y="394.5" width="1" height="12.5"/><rect x="666" y="396.5" width="1" height="7.5"/><rect x="671" y="399.6" width="1" height="4.4"/><rect x="678" y="391.4" width="1" height="8.9"/><rect x="679" y="392.6" width="1" height="8.0"/><rect x="680" y="397.5" width="1" height="7.9"/><rect x="681" y="400.1" width="1" height="4.8"/><rect x="682" y="400.0" width="1" height="5.7"/><rect x="683" y="399.2" width="1" height="4.1"/><rect x="685" y="399.5" width="1" height="6.5"/><rect x="686" y="402.1" width="1" height="3.7"/><rect x="687" y="404.3" width="1" height="4.8"/><rect x="688" y="404.9" width="1" height="8.4"/><rect x="693" y="408.9" width="1" height="4.3"/><rect x="694" y="410.9" width="1" height="3.5"/><rect x="695" y="413.2" width="1" height="3.1"/><rect x="696" y="413.8" width="1" height="4.1"/><rect x="697" y="416.9" width="1" height="4.9"/><rect x="698" y="420.8" width="1" height="10.0"/><rect x="699" y="429.2" width="1" height="18.6"/><rect x="702" y="439.9" width="1" height="5.0"/><rect x="709" y="441.6" width="1" height="8.9"/></g>
<g fill="#d40032"><rect x="17" y="488.0" width="1" height="3.1"/><rect x="18" y="488.6" width="1" height="3.0"/><rect x="19" y="488.1" width="1" height="3.9"/><rect x="20" y="488.3" width="1" height="3.2"/><rect x="21" y="490.0" width="1" height="3.3"/><rect x="22" y="489.9" width="1" height="4.4"/><rect x="23" y="490.4" width="1" height="4.5"/><rect x="24" y="491.3" width="1" height="7.2"/><rect x="25" y="492.0" width="1" height="8.9"/><rect x="26" y="496.9" width="1" height="11.2"/><rect x="27" y="505.7" width="1" height="8.9"/><rect x="28" y="511.3" width="1" height="11.2"/><rect x="29" y="515.3" width="1" height="10.8"/><rect x="30" y="522.0" width="1" height="14.4"/><rect x="31" y="521.2" width="1" height="13.9"/><rect x="32" y="523.4" width="1" height="8.7"/><rect x="33" y="521.4" width="1" height="11.4"/><rect x="34" y="524.1" width="1" height="12.3"/><rect x="35" y="527.5" width="1" height="12.1"/><rect x="36" y="530.8" width="1" height="7.4"/><rect x="37" y="536.2" width="1" height="11.9"/><rect x="38" y="540.2" width="1" height="9.7"/><rect x="39" y="538.7" width="1" height="14.8"/><rect x="40" y="536.3" width="1" height="16.6"/><rect x="41" y="535.8" width="1" height="11.6"/><rect x="42" y="533.8" width="1" height="14.8"/><rect x="43" y="533.8" width="1" height="13.5"/><rect x="44" y="534.9" width="1" height="12.1"/><rect x="45" y="535.5" width="1" height="10.5"/><rect x="46" y="534.3" width="1" height="9.7"/><rect x="47" y="533.1" width="1" height="11.9"/><rect x="48" y="531.9" width="1" height="11.0"/><rect x="49" y="530.9" width="1" height="7.9"/><rect x="50" y="530.1" width="1" height="9.9"/><rect x="51" y="529.3" width="1" height="9.3"/><rect x="52" y="529.6" width="1" height="8.4"/><rect x="53" y="527.5" width="1" height="9.3"/><rect x="54" y="529.7" width="1" height="7.0"/><rect x="55" y="530.5" width="1" height="9.0"/><rect x="56" y="532.8" width="1" height="8.0"/><rect x="57" y="534.9" width="1" height="10.1"/><rect x="58" y="537.7" width="1" height="9.8"/><rect x="59" y="543.0" width="1" height="11.9"/><rect x="60" y="546.7" width="1" height="16.7"/><rect x="61" y="547.2" width="1" height="20.2"/><rect x="62" y="551.6" width="1" height="20.9"/><rect x="63" y="552.5" width="1" height="21.3"/><rect x="64" y="556.8" width="1" height="15.3"/><rect x="65" y="552.2" width="1" height="18.9"/><rect x="66" y="555.2" width="1" height="19.5"/><rect x="67" y="567.2" width="1" height="13.1"/><rect x="68" y="571.3" width="1" height="19.3"/><rect x="69" y="587.0" width="1" height="18.9"/><rect x="70" y="604.2" width="1" height="11.4"/><rect x="71" y="612.3" width="1" height="14.6"/><rect x="72" y="619.7" width="1" height="12.7"/><rect x="73" y="620.8" width="1" height="13.6"/><rect x="74" y="621.1" width="1" height="9.5"/><rect x="75" y="619.9" width="1" height="11.9"/><rect x="76" y="619.9" width="1" height="9.5"/><rect x="77" y="612.3" width="1" height="15.7"/><rect x="78" y="606.0" width="1" height="15.9"/><rect x="79" y="600.6" width="1" height="17.5"/><rect x="80" y="604.2" width="1" height="11.7"/><rect x="81" y="607.0" width="1" height="12.1"/><rect x="82" y="609.3" width="1" height="9.2"/><rect x="83" y="609.9" width="1" height="7.7"/><rect x="84" y="613.7" width="1" height="4.9"/><rect x="85" y="612.0" width="1" height="4.7"/><rect x="86" y="612.0" width="1" height="7.5"/><rect x="87" y="612.2" width="1" height="8.1"/><rect x="88" y="610.6" width="1" height="11.5"/><rect x="89" y="606.1" width="1" height="10.2"/><rect x="90" y="602.5" width="1" height="16.1"/><rect x="91" y="605.5" width="1" height="12.1"/><rect x="92" y="611.6" width="1" height="9.9"/><rect x="93" y="615.9" width="1" height="10.3"/><rect x="94" y="619.2" width="1" height="13.7"/><rect x="95" y="623.1" width="1" height="16.7"/><rect x="96" y="628.2" width="1" height="11.2"/><rect x="97" y="629.4" width="1" height="12.5"/><rect x="98" y="635.0" width="1" height="11.8"/><rect x="99" y="629.3" width="1" height="16.4"/><rect x="100" y="627.1" width="1" height="15.3"/><rect x="101" y="629.9" width="1" height="9.1"/><rect x="102" y="628.1" width="1" height="10.5"/><rect x="103" y="628.8" width="1" height="12.9"/><rect x="104" y="625.8" width="1" height="10.0"/><rect x="105" y="618.8" width="1" height="10.9"/><rect x="106" y="614.1" width="1" height="7.6"/><rect x="107" y="614.9" width="1" height="6.6"/><rect x="108" y="610.2" width="1" height="10.0"/><rect x="109" y="609.8" width="1" height="6.2"/><rect x="110" y="611.4" width="1" height="7.4"/><rect x="111" y="612.1" width="1" height="9.6"/><rect x="112" y="617.5" width="1" height="6.2"/><rect x="113" y="617.9" width="1" height="8.8"/><rect x="114" y="619.6" width="1" height="9.6"/><rect x="115" y="624.1" width="1" height="6.0"/><rect x="116" y="624.1" width="1" height="8.3"/><rect x="117" y="627.5" width="1" height="6.0"/><rect x="118" y="627.7" width="1" height="10.1"/><rect x="119" y="630.0" width="1" height="10.2"/><rect x="120" y="633.3" width="1" height="11.0"/><rect x="121" y="640.5" width="1" height="10.7"/><rect x="122" y="650.2" width="1" height="14.2"/><rect x="123" y="662.4" width="1" height="7.9"/><rect x="124" y="661.4" width="1" height="9.9"/><rect x="125" y="667.0" width="1" height="12.9"/><rect x="126" y="674.3" width="1" height="10.5"/><rect x="127" y="678.7" width="1" height="8.6"/><rect x="128" y="677.5" width="1" height="7.0"/><rect x="129" y="676.2" width="1" height="8.7"/><rect x="130" y="668.0" width="1" height="11.7"/><rect x="131" y="663.5" width="1" height="13.0"/><rect x="132" y="667.8" width="1" height="11.8"/><rect x="133" y="672.9" width="1" height="7.9"/><rect x="134" y="675.7" width="1" height="6.7"/><rect x="135" y="673.8" width="1" height="7.9"/><rect x="136" y="671.9" width="1" height="8.5"/><rect x="137" y="667.7" width="1" height="6.9"/><rect x="138" y="665.2" width="1" height="6.4"/><rect x="139" y="662.0" width="1" height="6.3"/><rect x="140" y="660.8" width="1" height="6.4"/><rect x="141" y="657.0" width="1" height="9.5"/><rect x="142" y="653.1" width="1" height="12.2"/><rect x="143" y="652.6" width="1" height="11.2"/><rect x="144" y="654.3" width="1" height="6.8"/><rect x="145" y="647.4" width="1" height="7.9"/><rect x="146" y="635.3" width="1" height="13.1"/><rect x="147" y="631.6" width="1" height="13.0"/><rect x="148" y="633.9" width="1" height="12.6"/><rect x="149" y="638.4" width="1" height="8.9"/><rect x="150" y="638.7" width="1" height="6.9"/><rect x="151" y="638.9" width="1" height="7.2"/><rect x="152" y="641.2" width="1" height="6.6"/><rect x="153" y="639.8" width="1" height="8.6"/><rect x="154" y="646.5" width="1" height="7.4"/><rect x="155" y="647.0" width="1" height="10.3"/><rect x="156" y="654.0" width="1" height="10.9"/><rect x="157" y="659.3" width="1" height="11.5"/><rect x="158" y="657.8" width="1" height="12.9"/><rect x="159" y="653.4" width="1" height="20.9"/><rect x="160" y="647.6" width="1" height="15.2"/><rect x="161" y="645.6" width="1" height="10.2"/><rect x="162" y="637.8" width="1" height="9.0"/><rect x="163" y="635.7" width="1" height="8.4"/><rect x="164" y="628.2" width="1" height="12.8"/><rect x="165" y="616.9" width="1" height="15.1"/><rect x="166" y="617.3" width="1" height="12.0"/><rect x="167" y="617.1" width="1" height="13.4"/><rect x="168" y="621.1" width="1" height="9.8"/><rect x="169" y="621.5" width="1" height="9.5"/><rect x="170" y="621.3" width="1" height="9.6"/><rect x="171" y="623.1" width="1" height="7.2"/><rect x="172" y="616.7" width="1" height="13.2"/><rect x="173" y="610.7" width="1" height="14.9"/><rect x="174" y="615.1" width="1" height="20.8"/><rect x="175" y="622.4" width="1" height="15.6"/><rect x="176" y="623.9" width="1" height="18.6"/><rect x="177" y="629.1" width="1" height="14.9"/><rect x="178" y="631.6" width="1" height="11.9"/><rect x="179" y="633.9" width="1" height="11.2"/><rect x="180" y="633.8" width="1" height="10.2"/><rect x="181" y="634.9" width="1" height="8.0"/><rect x="182" y="636.8" width="1" height="7.5"/><rect x="183" y="641.7" width="1" height="8.6"/><rect x="184" y="646.7" width="1" height="7.8"/><rect x="185" y="650.4" width="1" height="7.9"/><rect x="186" y="656.4" width="1" height="5.8"/><rect x="187" y="656.8" width="1" height="6.3"/><rect x="188" y="654.9" width="1" height="7.9"/><rect x="189" y="645.5" width="1" height="17.6"/><rect x="190" y="643.7" width="1" height="16.4"/><rect x="191" y="636.5" width="1" height="17.6"/><rect x="192" y="645.0" width="1" height="16.8"/><rect x="193" y="651.9" width="1" height="11.3"/><rect x="194" y="656.0" width="1" height="9.0"/><rect x="195" y="653.3" width="1" height="12.4"/><rect x="196" y="657.2" width="1" height="8.3"/><rect x="197" y="657.7" width="1" height="8.2"/><rect x="198" y="660.3" width="1" height="5.2"/><rect x="199" y="662.3" width="1" height="5.5"/><rect x="200" y="662.1" width="1" height="8.3"/><rect x="201" y="664.5" width="1" height="7.3"/><rect x="202" y="666.9" width="1" height="5.4"/><rect x="203" y="666.0" width="1" height="7.3"/><rect x="204" y="668.7" width="1" height="5.6"/><rect x="205" y="669.2" width="1" height="6.9"/><rect x="206" y="670.0" width="1" height="9.6"/><rect x="207" y="671.8" width="1" height="8.0"/><rect x="208" y="673.2" width="1" height="7.6"/><rect x="209" y="672.9" width="1" height="9.7"/><rect x="210" y="674.0" width="1" height="8.9"/><rect x="211" y="671.6" width="1" height="8.5"/><rect x="212" y="669.7" width="1" height="7.3"/><rect x="213" y="664.5" width="1" height="8.8"/><rect x="214" y="663.2" width="1" height="6.4"/><rect x="215" y="662.8" width="1" height="4.7"/><rect x="216" y="662.7" width="1" height="2.6"/><rect x="217" y="655.4" width="1" height="8.3"/><rect x="218" y="652.3" width="1" height="8.5"/><rect x="219" y="646.3" width="1" height="11.5"/><rect x="220" y="643.8" width="1" height="10.4"/><rect x="221" y="642.2" width="1" height="11.6"/><rect x="222" y="646.1" width="1" height="7.7"/><rect x="223" y="646.9" width="1" height="9.1"/><rect x="224" y="649.4" width="1" height="8.7"/><rect x="225" y="652.7" width="1" height="10.5"/><rect x="226" y="659.0" width="1" height="6.6"/><rect x="227" y="660.8" width="1" height="6.5"/><rect x="228" y="659.7" width="1" height="5.5"/><rect x="229" y="659.2" width="1" height="6.4"/><rect x="230" y="661.1" width="1" height="8.1"/><rect x="231" y="660.6" width="1" height="9.7"/><rect x="232" y="662.4" width="1" height="8.2"/><rect x="233" y="662.8" width="1" height="5.8"/><rect x="234" y="663.5" width="1" height="5.3"/><rect x="235" y="662.6" width="1" height="6.5"/><rect x="236" y="661.6" width="1" height="6.2"/><rect x="237" y="663.8" width="1" height="7.8"/><rect x="238" y="665.8" width="1" height="9.0"/><rect x="239" y="667.8" width="1" height="10.1"/><rect x="240" y="672.1" width="1" height="9.2"/><rect x="241" y="676.9" width="1" height="6.9"/><rect x="242" y="680.0" width="1" height="5.7"/><rect x="243" y="681.8" width="1" height="5.7"/><rect x="244" y="683.7" width="1" height="7.2"/><rect x="245" y="683.4" width="1" height="6.8"/><rect x="246" y="685.5" width="1" height="5.5"/><rect x="247" y="687.1" width="1" height="5.1"/><rect x="248" y="689.9" width="1" height="6.5"/><rect x="249" y="693.0" width="1" height="9.0"/><rect x="250" y="694.5" width="1" height="6.9"/><rect x="251" y="697.9" width="1" height="3.8"/><rect x="252" y="696.5" width="1" height="4.2"/><rect x="253" y="694.2" width="1" height="5.6"/><rect x="254" y="690.5" width="1" height="8.4"/><rect x="255" y="691.8" width="1" height="7.4"/><rect x="256" y="692.0" width="1" height="8.1"/><rect x="257" y="695.7" width="1" height="5.5"/><rect x="258" y="696.0" width="1" height="6.1"/><rect x="259" y="695.0" width="1" height="6.6"/><rect x="260" y="695.5" width="1" height="5.6"/><rect x="261" y="697.6" width="1" height="5.9"/><rect x="262" y="700.7" width="1" height="4.9"/><rect x="263" y="700.6" width="1" height="5.7"/><rect x="264" y="699.9" width="1" height="4.9"/><rect x="265" y="697.9" width="1" height="5.1"/><rect x="266" y="695.0" width="1" height="7.3"/><rect x="267" y="694.9" width="1" height="8.1"/><rect x="268" y="696.8" width="1" height="5.8"/><rect x="269" y="696.2" width="1" height="6.6"/><rect x="270" y="693.7" width="1" height="5.0"/><rect x="271" y="691.0" width="1" height="5.0"/><rect x="272" y="687.7" width="1" height="4.3"/><rect x="273" y="688.5" width="1" height="5.2"/><rect x="274" y="690.6" width="1" height="4.9"/><rect x="275" y="689.7" width="1" height="6.8"/><rect x="276" y="687.2" width="1" height="6.3"/><rect x="277" y="684.7" width="1" height="6.6"/><rect x="278" y="683.0" width="1" height="8.3"/><rect x="279" y="684.9" width="1" height="6.1"/><rect x="280" y="683.5" width="1" height="6.8"/><rect x="281" y="681.6" width="1" height="8.5"/><rect x="282" y="679.7" width="1" height="6.1"/><rect x="283" y="675.2" width="1" height="8.7"/><rect x="284" y="673.9" width="1" height="5.6"/><rect x="285" y="672.3" width="1" height="7.6"/><rect x="286" y="669.5" width="1" height="9.1"/><rect x="287" y="669.6" width="1" height="10.0"/><rect x="288" y="671.7" width="1" height="8.0"/><rect x="289" y="672.9" width="1" height="7.0"/><rect x="290" y="673.2" width="1" height="7.5"/><rect x="291" y="672.2" width="1" height="8.8"/><rect x="292" y="671.7" width="1" height="7.3"/><rect x="293" y="672.0" width="1" height="6.8"/><rect x="294" y="672.8" width="1" height="7.7"/><rect x="295" y="673.1" width="1" height="9.1"/><rect x="296" y="674.3" width="1" height="7.8"/><rect x="297" y="674.8" width="1" height="8.1"/><rect x="298" y="672.4" width="1" height="6.0"/><rect x="299" y="669.3" width="1" height="6.1"/><rect x="300" y="668.6" width="1" height="3.7"/><rect x="301" y="664.0" width="1" height="6.4"/><rect x="302" y="663.1" width="1" height="5.8"/><rect x="303" y="657.8" width="1" height="9.6"/><rect x="304" y="653.7" width="1" height="10.6"/><rect x="305" y="651.0" width="1" height="8.0"/><rect x="306" y="649.1" width="1" height="7.2"/><rect x="307" y="646.9" width="1" height="7.6"/><rect x="308" y="647.7" width="1" height="6.0"/><rect x="309" y="645.8" width="1" height="7.0"/><rect x="310" y="645.5" width="1" height="8.1"/><rect x="311" y="647.7" width="1" height="5.2"/><rect x="312" y="647.4" width="1" height="8.0"/><rect x="313" y="648.0" width="1" height="7.9"/><rect x="314" y="649.8" width="1" height="6.5"/><rect x="315" y="648.4" width="1" height="7.5"/><rect x="316" y="648.5" width="1" height="6.1"/><rect x="317" y="647.6" width="1" height="6.7"/><rect x="318" y="648.0" width="1" height="6.1"/><rect x="319" y="647.7" width="1" height="6.1"/><rect x="320" y="648.1" width="1" height="3.9"/><rect x="321" y="647.9" width="1" height="3.5"/><rect x="322" y="645.0" width="1" height="3.8"/><rect x="323" y="644.2" width="1" height="4.0"/><rect x="324" y="638.2" width="1" height="9.1"/><rect x="325" y="632.1" width="1" height="12.9"/><rect x="326" y="642.0" width="1" height="7.7"/><rect x="327" y="646.4" width="1" height="8.3"/><rect x="328" y="648.1" width="1" height="7.7"/><rect x="329" y="650.4" width="1" height="6.8"/><rect x="330" y="652.8" width="1" height="8.7"/><rect x="331" y="656.4" width="1" height="6.7"/><rect x="332" y="658.3" width="1" height="6.8"/><rect x="333" y="661.8" width="1" height="8.9"/><rect x="334" y="665.3" width="1" height="9.6"/><rect x="335" y="667.6" width="1" height="8.1"/><rect x="336" y="670.7" width="1" height="5.4"/><rect x="337" y="668.1" width="1" height="7.5"/><rect x="338" y="666.8" width="1" height="7.3"/><rect x="339" y="666.4" width="1" height="5.3"/><rect x="340" y="663.9" width="1" height="6.9"/><rect x="341" y="662.9" width="1" height="6.9"/><rect x="342" y="663.2" width="1" height="5.3"/><rect x="343" y="661.0" width="1" height="5.1"/><rect x="344" y="658.7" width="1" height="7.3"/><rect x="345" y="657.4" width="1" height="7.3"/><rect x="346" y="660.3" width="1" height="5.4"/><rect x="347" y="664.1" width="1" height="5.4"/><rect x="348" y="665.4" width="1" height="5.0"/><rect x="349" y="668.1" width="1" height="3.8"/><rect x="350" y="669.8" width="1" height="3.9"/><rect x="351" y="670.7" width="1" height="3.4"/><rect x="352" y="671.7" width="1" height="5.4"/><rect x="353" y="670.8" width="1" height="4.3"/><rect x="354" y="668.3" width="1" height="4.7"/><rect x="355" y="667.0" width="1" height="4.3"/><rect x="356" y="665.5" width="1" height="5.0"/><rect x="357" y="665.6" width="1" height="5.7"/><rect x="358" y="667.4" width="1" height="4.4"/><rect x="359" y="666.9" width="1" height="3.7"/><rect x="360" y="666.3" width="1" height="4.8"/><rect x="361" y="666.5" width="1" height="3.0"/><rect x="362" y="666.2" width="1" height="3.6"/><rect x="363" y="665.6" width="1" height="4.7"/><rect x="364" y="665.3" width="1" height="5.5"/><rect x="365" y="666.8" width="1" height="4.1"/><rect x="366" y="669.3" width="1" height="3.9"/><rect x="367" y="671.2" width="1" height="4.2"/><rect x="368" y="670.3" width="1" height="4.3"/><rect x="369" y="670.8" width="1" height="2.9"/><rect x="370" y="670.9" width="1" height="2.1"/><rect x="371" y="671.5" width="1" height="2.3"/><rect x="372" y="672.0" width="1" height="3.4"/><rect x="373" y="672.9" width="1" height="4.4"/><rect x="374" y="673.6" width="1" height="4.2"/><rect x="375" y="673.9" width="1" height="3.3"/><rect x="376" y="674.0" width="1" height="2.7"/><rect x="377" y="674.1" width="1" height="3.8"/><rect x="378" y="675.1" width="1" height="6.1"/><rect x="379" y="676.6" width="1" height="8.2"/><rect x="380" y="677.8" width="1" height="10.4"/><rect x="381" y="681.1" width="1" height="6.9"/><rect x="382" y="683.1" width="1" height="6.2"/><rect x="383" y="685.8" width="1" height="6.2"/><rect x="384" y="688.0" width="1" height="4.5"/><rect x="385" y="686.7" width="1" height="5.1"/><rect x="386" y="685.8" width="1" height="5.1"/><rect x="387" y="685.2" width="1" height="3.6"/><rect x="388" y="684.6" width="1" height="4.5"/><rect x="389" y="683.5" width="1" height="4.1"/><rect x="390" y="682.1" width="1" height="5.1"/><rect x="391" y="680.8" width="1" height="4.6"/><rect x="392" y="677.3" width="1" height="5.7"/><rect x="393" y="673.3" width="1" height="5.8"/><rect x="394" y="672.0" width="1" height="8.0"/><rect x="395" y="671.5" width="1" height="6.5"/><rect x="396" y="671.5" width="1" height="3.9"/><rect x="397" y="667.3" width="1" height="6.7"/><rect x="398" y="659.8" width="1" height="11.4"/><rect x="399" y="657.5" width="1" height="12.6"/><rect x="400" y="655.7" width="1" height="8.1"/><rect x="401" y="654.4" width="1" height="7.9"/><rect x="402" y="655.8" width="1" height="5.4"/><rect x="403" y="656.6" width="1" height="5.0"/><rect x="404" y="658.0" width="1" height="3.2"/><rect x="405" y="655.1" width="1" height="5.3"/><rect x="406" y="655.8" width="1" height="3.9"/><rect x="407" y="652.6" width="1" height="5.7"/><rect x="408" y="652.6" width="1" height="4.8"/><rect x="409" y="653.0" width="1" height="6.0"/><rect x="410" y="653.6" width="1" height="6.1"/><rect x="411" y="655.5" width="1" height="3.8"/><rect x="412" y="650.6" width="1" height="6.0"/><rect x="413" y="643.9" width="1" height="9.3"/><rect x="414" y="646.0" width="1" height="7.5"/><rect x="415" y="646.6" width="1" height="10.2"/><rect x="416" y="647.0" width="1" height="12.9"/><rect x="417" y="647.7" width="1" height="12.7"/><rect x="418" y="648.5" width="1" height="9.4"/><rect x="419" y="650.3" width="1" height="9.1"/><rect x="420" y="651.6" width="1" height="7.0"/><rect x="421" y="651.9" width="1" height="4.6"/><rect x="422" y="651.4" width="1" height="3.3"/><rect x="423" y="650.4" width="1" height="5.5"/><rect x="424" y="651.8" width="1" height="5.8"/><rect x="425" y="651.5" width="1" height="7.1"/><rect x="426" y="651.0" width="1" height="5.9"/><rect x="427" y="651.2" width="1" height="5.1"/><rect x="428" y="650.7" width="1" height="3.7"/><rect x="429" y="652.7" width="1" height="3.5"/><rect x="430" y="653.6" width="1" height="4.9"/><rect x="431" y="656.1" width="1" height="4.1"/><rect x="432" y="657.0" width="1" height="4.3"/><rect x="433" y="657.0" width="1" height="3.8"/><rect x="434" y="655.9" width="1" height="4.8"/><rect x="435" y="653.8" width="1" height="4.1"/><rect x="436" y="651.4" width="1" height="4.6"/><rect x="437" y="649.7" width="1" height="4.5"/><rect x="438" y="649.3" width="1" height="4.3"/><rect x="439" y="649.0" width="1" height="3.9"/><rect x="440" y="645.8" width="1" height="5.6"/><rect x="441" y="643.7" width="1" height="5.1"/><rect x="442" y="641.7" width="1" height="5.3"/><rect x="443" y="643.6" width="1" height="5.1"/><rect x="444" y="645.3" width="1" height="5.6"/><rect x="445" y="647.6" width="1" height="3.9"/><rect x="446" y="649.7" width="1" height="4.7"/><rect x="447" y="651.6" width="1" height="4.0"/><rect x="448" y="654.6" width="1" height="5.1"/><rect x="449" y="652.8" width="1" height="6.0"/><rect x="450" y="652.2" width="1" height="6.5"/><rect x="451" y="650.2" width="1" height="6.6"/><rect x="452" y="649.7" width="1" height="6.4"/><rect x="453" y="649.4" width="1" height="5.4"/><rect x="454" y="649.9" width="1" height="4.8"/><rect x="455" y="650.3" width="1" height="8.9"/><rect x="456" y="652.0" width="1" height="12.5"/><rect x="457" y="656.3" width="1" height="9.0"/><rect x="458" y="660.0" width="1" height="6.9"/><rect x="459" y="665.2" width="1" height="7.5"/><rect x="460" y="666.7" width="1" height="5.4"/><rect x="461" y="668.6" width="1" height="5.9"/><rect x="462" y="669.3" width="1" height="6.1"/><rect x="463" y="670.6" width="1" height="5.5"/><rect x="464" y="670.7" width="1" height="5.4"/><rect x="465" y="672.4" width="1" height="4.0"/><rect x="466" y="672.0" width="1" height="4.6"/><rect x="467" y="673.9" width="1" height="6.2"/><rect x="468" y="675.5" width="1" height="8.3"/><rect x="469" y="679.7" width="1" height="6.1"/><rect x="470" y="681.4" width="1" height="7.6"/><rect x="471" y="683.9" width="1" height="7.1"/><rect x="472" y="685.8" width="1" height="6.9"/><rect x="473" y="687.7" width="1" height="5.6"/><rect x="474" y="690.2" width="1" height="5.0"/><rect x="475" y="692.5" width="1" height="4.4"/><rect x="476" y="693.3" width="1" height="4.7"/><rect x="477" y="693.5" width="1" height="7.3"/><rect x="478" y="696.0" width="1" height="4.7"/><rect x="479" y="697.7" width="1" height="5.4"/><rect x="480" y="698.6" width="1" height="6.6"/><rect x="481" y="694.4" width="1" height="13.3"/><rect x="482" y="693.7" width="1" height="13.4"/><rect x="483" y="693.6" width="1" height="15.0"/><rect x="484" y="694.3" width="1" height="10.9"/><rect x="485" y="695.7" width="1" height="8.4"/><rect x="486" y="695.3" width="1" height="7.1"/><rect x="487" y="695.7" width="1" height="5.0"/><rect x="488" y="696.0" width="1" height="6.3"/><rect x="489" y="695.4" width="1" height="6.4"/><rect x="490" y="696.7" width="1" height="5.7"/><rect x="491" y="698.9" width="1" height="7.1"/><rect x="492" y="698.6" width="1" height="8.7"/><rect x="493" y="700.5" width="1" height="8.4"/><rect x="494" y="704.1" width="1" height="6.3"/><rect x="495" y="707.5" width="1" height="4.0"/><rect x="496" y="707.5" width="1" height="5.5"/><rect x="497" y="708.7" width="1" height="6.1"/><rect x="498" y="708.9" width="1" height="6.6"/><rect x="499" y="709.7" width="1" height="6.6"/><rect x="500" y="713.1" width="1" height="9.5"/><rect x="501" y="719.7" width="1" height="7.2"/><rect x="502" y="723.0" width="1" height="9.2"/><rect x="503" y="729.8" width="1" height="11.4"/><rect x="504" y="734.4" width="1" height="11.7"/><rect x="505" y="735.8" width="1" height="11.4"/><rect x="506" y="734.7" width="1" height="10.3"/><rect x="507" y="735.4" width="1" height="8.2"/><rect x="508" y="730.3" width="1" height="8.9"/><rect x="509" y="730.5" width="1" height="9.4"/><rect x="510" y="732.4" width="1" height="5.8"/><rect x="511" y="732.1" width="1" height="5.7"/><rect x="512" y="729.2" width="1" height="8.8"/><rect x="513" y="726.4" width="1" height="11.6"/><rect x="514" y="725.3" width="1" height="14.0"/><rect x="515" y="722.5" width="1" height="10.7"/><rect x="516" y="718.0" width="1" height="8.1"/><rect x="517" y="713.4" width="1" height="9.3"/><rect x="518" y="714.2" width="1" height="8.2"/><rect x="519" y="716.7" width="1" height="5.6"/><rect x="520" y="714.1" width="1" height="7.1"/><rect x="521" y="716.9" width="1" height="7.7"/><rect x="522" y="722.0" width="1" height="5.7"/><rect x="523" y="723.1" width="1" height="7.3"/><rect x="524" y="724.4" width="1" height="6.0"/><rect x="525" y="721.0" width="1" height="6.0"/><rect x="526" y="718.4" width="1" height="7.4"/><rect x="527" y="719.7" width="1" height="8.4"/><rect x="528" y="723.0" width="1" height="7.2"/><rect x="529" y="724.7" width="1" height="7.7"/><rect x="530" y="722.2" width="1" height="8.0"/><rect x="531" y="719.9" width="1" height="7.2"/><rect x="532" y="716.1" width="1" height="7.6"/><rect x="533" y="718.2" width="1" height="7.8"/><rect x="534" y="720.5" width="1" height="8.4"/><rect x="535" y="721.9" width="1" height="9.2"/><rect x="536" y="727.6" width="1" height="7.7"/><rect x="537" y="729.9" width="1" height="10.5"/><rect x="538" y="734.9" width="1" height="6.8"/><rect x="539" y="731.5" width="1" height="7.0"/><rect x="540" y="726.4" width="1" height="10.1"/><rect x="541" y="728.8" width="1" height="10.0"/><rect x="542" y="732.0" width="1" height="6.8"/><rect x="543" y="735.5" width="1" height="7.0"/><rect x="544" y="732.5" width="1" height="6.8"/><rect x="545" y="731.2" width="1" height="4.5"/><rect x="546" y="729.5" width="1" height="6.6"/><rect x="547" y="728.2" width="1" height="6.2"/><rect x="548" y="726.5" width="1" height="7.0"/><rect x="549" y="723.2" width="1" height="7.4"/><rect x="550" y="715.0" width="1" height="12.1"/><rect x="551" y="710.0" width="1" height="14.7"/><rect x="552" y="710.4" width="1" height="8.1"/><rect x="553" y="710.1" width="1" height="7.1"/><rect x="554" y="707.3" width="1" height="9.7"/><rect x="555" y="704.2" width="1" height="8.7"/><rect x="556" y="700.5" width="1" height="16.9"/><rect x="557" y="698.6" width="1" height="15.2"/><rect x="558" y="698.8" width="1" height="11.2"/><rect x="559" y="694.4" width="1" height="10.5"/><rect x="560" y="686.9" width="1" height="10.1"/><rect x="561" y="682.6" width="1" height="7.3"/><rect x="562" y="682.2" width="1" height="9.6"/><rect x="563" y="686.2" width="1" height="6.6"/><rect x="564" y="691.2" width="1" height="8.6"/><rect x="565" y="692.1" width="1" height="10.3"/><rect x="566" y="689.9" width="1" height="9.7"/><rect x="567" y="689.2" width="1" height="11.5"/><rect x="568" y="691.4" width="1" height="8.1"/><rect x="569" y="690.3" width="1" height="12.4"/><rect x="570" y="693.3" width="1" height="7.5"/><rect x="571" y="690.9" width="1" height="7.3"/><rect x="572" y="690.0" width="1" height="7.2"/><rect x="573" y="690.0" width="1" height="6.5"/><rect x="574" y="691.8" width="1" height="6.9"/><rect x="575" y="695.4" width="1" height="3.7"/><rect x="576" y="696.9" width="1" height="4.7"/><rect x="577" y="698.1" width="1" height="5.0"/><rect x="578" y="699.1" width="1" height="5.3"/><rect x="579" y="701.3" width="1" height="4.9"/><rect x="580" y="701.4" width="1" height="6.5"/><rect x="581" y="702.9" width="1" height="5.7"/><rect x="582" y="704.6" width="1" height="5.7"/><rect x="583" y="706.4" width="1" height="4.9"/><rect x="584" y="707.0" width="1" height="4.3"/><rect x="585" y="706.5" width="1" height="4.2"/><rect x="586" y="707.1" width="1" height="3.9"/><rect x="587" y="706.9" width="1" height="5.0"/><rect x="588" y="705.9" width="1" height="4.2"/><rect x="589" y="704.1" width="1" height="4.5"/><rect x="590" y="701.3" width="1" height="4.9"/><rect x="591" y="700.6" width="1" height="8.3"/><rect x="592" y="702.8" width="1" height="8.2"/><rect x="593" y="703.2" width="1" height="8.9"/><rect x="594" y="708.1" width="1" height="8.0"/><rect x="595" y="715.1" width="1" height="9.1"/><rect x="596" y="720.8" width="1" height="9.9"/><rect x="597" y="725.7" width="1" height="8.6"/><rect x="598" y="726.7" width="1" height="9.3"/><rect x="599" y="731.0" width="1" height="6.8"/><rect x="600" y="730.9" width="1" height="8.8"/><rect x="601" y="732.0" width="1" height="7.4"/><rect x="602" y="730.8" width="1" height="8.0"/><rect x="603" y="731.5" width="1" height="6.9"/><rect x="604" y="729.7" width="1" height="6.4"/><rect x="605" y="727.7" width="1" height="4.9"/><rect x="606" y="726.8" width="1" height="5.1"/><rect x="607" y="724.3" width="1" height="4.3"/><rect x="608" y="723.2" width="1" height="4.3"/><rect x="609" y="720.8" width="1" height="6.2"/><rect x="610" y="720.8" width="1" height="4.7"/><rect x="611" y="720.2" width="1" height="8.5"/><rect x="612" y="724.4" width="1" height="6.6"/><rect x="613" y="722.7" width="1" height="11.7"/><rect x="614" y="724.0" width="1" height="8.1"/><rect x="615" y="725.4" width="1" height="9.1"/><rect x="616" y="725.3" width="1" height="8.6"/><rect x="617" y="723.0" width="1" height="5.6"/><rect x="618" y="720.8" width="1" height="5.7"/><rect x="619" y="721.9" width="1" height="4.8"/><rect x="620" y="722.1" width="1" height="4.9"/><rect x="621" y="723.0" width="1" height="5.3"/><rect x="622" y="722.3" width="1" height="5.4"/><rect x="623" y="721.8" width="1" height="4.6"/><rect x="624" y="720.9" width="1" height="3.6"/><rect x="625" y="720.7" width="1" height="3.2"/><rect x="626" y="718.1" width="1" height="4.6"/><rect x="627" y="717.0" width="1" height="3.7"/><rect x="628" y="715.4" width="1" height="5.3"/><rect x="629" y="715.9" width="1" height="3.8"/><rect x="630" y="717.5" width="1" height="3.9"/><rect x="631" y="717.3" width="1" height="3.8"/><rect x="632" y="715.5" width="1" height="4.6"/><rect x="633" y="714.5" width="1" height="5.0"/><rect x="634" y="712.6" width="1" height="6.0"/><rect x="635" y="711.6" width="1" height="5.9"/><rect x="636" y="709.9" width="1" height="6.3"/><rect x="637" y="709.8" width="1" height="7.3"/><rect x="638" y="712.0" width="1" height="5.2"/><rect x="639" y="711.8" width="1" height="6.1"/><rect x="640" y="713.0" width="1" height="4.7"/><rect x="641" y="712.0" width="1" height="7.2"/><rect x="642" y="713.7" width="1" height="4.9"/><rect x="643" y="714.9" width="1" height="7.3"/><rect x="644" y="718.1" width="1" height="6.7"/><rect x="645" y="717.5" width="1" height="5.5"/><rect x="646" y="715.3" width="1" height="4.3"/><rect x="647" y="713.7" width="1" height="3.9"/><rect x="648" y="710.6" width="1" height="4.8"/><rect x="649" y="709.1" width="1" height="4.0"/><rect x="650" y="708.8" width="1" height="4.1"/><rect x="651" y="711.2" width="1" height="3.4"/><rect x="652" y="712.3" width="1" height="4.8"/><rect x="653" y="716.1" width="1" height="3.1"/><rect x="654" y="718.1" width="1" height="3.7"/><rect x="655" y="719.7" width="1" height="4.1"/><rect x="656" y="722.4" width="1" height="4.0"/><rect x="657" y="723.8" width="1" height="4.4"/><rect x="658" y="725.6" width="1" height="5.7"/><rect x="659" y="725.8" width="1" height="5.1"/><rect x="660" y="725.7" width="1" height="4.7"/><rect x="661" y="725.1" width="1" height="4.8"/><rect x="662" y="726.4" width="1" height="4.1"/><rect x="663" y="727.8" width="1" height="4.8"/><rect x="664" y="729.5" width="1" height="4.3"/><rect x="665" y="731.0" width="1" height="3.4"/><rect x="666" y="731.9" width="1" height="3.4"/><rect x="667" y="733.7" width="1" height="2.8"/><rect x="668" y="733.6" width="1" height="3.4"/><rect x="669" y="734.1" width="1" height="4.0"/><rect x="670" y="734.9" width="1" height="3.3"/><rect x="671" y="735.4" width="1" height="4.0"/><rect x="672" y="736.6" width="1" height="3.2"/><rect x="673" y="736.0" width="1" height="4.6"/><rect x="674" y="735.9" width="1" height="4.1"/><rect x="675" y="734.1" width="1" height="6.0"/><rect x="676" y="733.5" width="1" height="6.1"/><rect x="677" y="735.4" width="1" height="4.9"/><rect x="678" y="736.2" width="1" height="5.2"/><rect x="679" y="737.8" width="1" height="4.4"/><rect x="680" y="739.5" width="1" height="3.7"/><rect x="681" y="741.1" width="1" height="2.9"/><rect x="682" y="740.6" width="1" height="4.5"/><rect x="683" y="741.5" width="1" height="2.9"/><rect x="684" y="742.0" width="1" height="4.9"/><rect x="685" y="743.2" width="1" height="4.8"/><rect x="686" y="744.5" width="1" height="4.5"/><rect x="687" y="745.4" width="1" height="4.0"/><rect x="688" y="743.0" width="1" height="5.1"/><rect x="689" y="742.6" width="1" height="8.2"/><rect x="690" y="745.5" width="1" height="7.1"/><rect x="691" y="748.5" width="1" height="3.9"/><rect x="692" y="750.0" width="1" height="5.5"/><rect x="693" y="751.9" width="1" height="3.7"/><rect x="694" y="752.6" width="1" height="4.2"/><rect x="695" y="753.2" width="1" height="3.9"/><rect x="696" y="754.7" width="1" height="6.0"/><rect x="697" y="755.8" width="1" height="6.4"/><rect x="698" y="758.3" width="1" height="7.9"/><rect x="699" y="765.2" width="1" height="9.1"/><rect x="700" y="773.1" width="1" height="8.7"/><rect x="701" y="775.3" width="1" height="9.3"/><rect x="702" y="778.0" width="1" height="7.0"/><rect x="703" y="779.2" width="1" height="8.3"/><rect x="704" y="778.2" width="1" height="7.2"/><rect x="705" y="778.1" width="1" height="8.9"/><rect x="706" y="779.2" width="1" height="7.5"/><rect x="707" y="780.5" width="1" height="5.2"/><rect x="708" y="780.8" width="1" height="4.5"/><rect x="709" y="781.6" width="1" height="5.6"/><rect x="710" y="781.5" width="1" height="5.8"/></g>
<g shape-rendering="crispEdges" fill="#0000ff"><rect x="506" y="421" width="80" height="2"/><rect x="586" y="420" width="107" height="2"/><rect x="693" y="419" width="26" height="2"/><rect x="493" y="747" width="54" height="2"/><rect x="547" y="748" width="163" height="2"/></g>
<g shape-rendering="crispEdges"><rect x="16" y="29" width="721" height="1" fill="#a88080"/><rect x="16" y="141" width="721" height="1" fill="#a88080"/><rect x="16" y="460" width="721" height="1" fill="#a88080"/><rect x="16" y="29" width="1" height="432" fill="#a88080"/><rect x="736" y="29" width="1" height="432" fill="#a88080"/><rect x="16" y="475" width="721" height="1" fill="#a88080"/><rect x="16" y="794" width="721" height="1" fill="#a88080"/><rect x="16" y="475" width="1" height="320" fill="#a88080"/><rect x="736" y="475" width="1" height="320" fill="#a88080"/><rect x="16" y="461" width="1" height="2" fill="#a88080"/><rect x="16" y="473" width="1" height="2" fill="#a88080"/><rect x="16" y="795" width="1" height="2" fill="#a88080"/><rect x="16" y="808" width="1" height="1" fill="#ece6e6"/><rect x="37" y="461" width="1" height="2" fill="#a88080"/><rect x="37" y="473" width="1" height="2" fill="#a88080"/><rect x="37" y="795" width="1" height="2" fill="#a88080"/><rect x="37" y="808" width="1" height="1" fill="#ece6e6"/><rect x="59" y="461" width="1" height="2" fill="#a88080"/><rect x="59" y="473" width="1" height="2" fill="#a88080"/><rect x="59" y="795" width="1" height="2" fill="#a88080"/><rect x="59" y="808" width="1" height="1" fill="#ece6e6"/><rect x="83" y="461" width="1" height="2" fill="#a88080"/><rect x="83" y="473" width="1" height="2" fill="#a88080"/><rect x="83" y="795" width="1" height="2" fill="#a88080"/><rect x="83" y="808" width="1" height="1" fill="#ece6e6"/><rect x="108" y="461" width="1" height="2" fill="#a88080"/><rect x="108" y="473" width="1" height="2" fill="#a88080"/><rect x="108" y="795" width="1" height="2" fill="#a88080"/><rect x="108" y="808" width="1" height="1" fill="#ece6e6"/><rect x="130" y="461" width="1" height="2" fill="#a88080"/><rect x="130" y="473" width="1" height="2" fill="#a88080"/><rect x="130" y="795" width="1" height="2" fill="#a88080"/><rect x="130" y="808" width="1" height="1" fill="#ece6e6"/><rect x="154" y="461" width="1" height="2" fill="#a88080"/><rect x="154" y="473" width="1" height="2" fill="#a88080"/><rect x="154" y="795" width="1" height="2" fill="#a88080"/><rect x="154" y="808" width="1" height="1" fill="#ece6e6"/><rect x="178" y="461" width="1" height="2" fill="#a88080"/><rect x="178" y="473" width="1" height="2" fill="#a88080"/><rect x="178" y="795" width="1" height="2" fill="#a88080"/><rect x="178" y="808" width="1" height="1" fill="#ece6e6"/><rect x="200" y="461" width="1" height="2" fill="#a88080"/><rect x="200" y="473" width="1" height="2" fill="#a88080"/><rect x="200" y="795" width="1" height="2" fill="#a88080"/><rect x="200" y="808" width="1" height="1" fill="#ece6e6"/><rect x="226" y="461" width="1" height="2" fill="#a88080"/><rect x="226" y="473" width="1" height="2" fill="#a88080"/><rect x="226" y="795" width="1" height="2" fill="#a88080"/><rect x="226" y="808" width="1" height="1" fill="#ece6e6"/><rect x="248" y="461" width="1" height="2" fill="#a88080"/><rect x="248" y="473" width="1" height="2" fill="#a88080"/><rect x="248" y="795" width="1" height="2" fill="#a88080"/><rect x="248" y="808" width="1" height="1" fill="#ece6e6"/><rect x="271" y="461" width="1" height="2" fill="#a88080"/><rect x="271" y="473" width="1" height="2" fill="#a88080"/><rect x="271" y="795" width="1" height="2" fill="#a88080"/><rect x="271" y="808" width="1" height="1" fill="#ece6e6"/><rect x="294" y="461" width="1" height="2" fill="#a88080"/><rect x="294" y="473" width="1" height="2" fill="#a88080"/><rect x="294" y="795" width="1" height="2" fill="#a88080"/><rect x="294" y="808" width="1" height="1" fill="#ece6e6"/><rect x="315" y="461" width="1" height="2" fill="#a88080"/><rect x="315" y="473" width="1" height="2" fill="#a88080"/><rect x="315" y="795" width="1" height="2" fill="#a88080"/><rect x="315" y="808" width="1" height="1" fill="#ece6e6"/><rect x="338" y="461" width="1" height="2" fill="#a88080"/><rect x="338" y="473" width="1" height="2" fill="#a88080"/><rect x="338" y="795" width="1" height="2" fill="#a88080"/><rect x="338" y="808" width="1" height="1" fill="#ece6e6"/><rect x="361" y="461" width="1" height="2" fill="#a88080"/><rect x="361" y="473" width="1" height="2" fill="#a88080"/><rect x="361" y="795" width="1" height="2" fill="#a88080"/><rect x="361" y="808" width="1" height="1" fill="#ece6e6"/><rect x="385" y="461" width="1" height="2" fill="#a88080"/><rect x="385" y="473" width="1" height="2" fill="#a88080"/><rect x="385" y="795" width="1" height="2" fill="#a88080"/><rect x="385" y="808" width="1" height="1" fill="#ece6e6"/><rect x="408" y="461" width="1" height="2" fill="#a88080"/><rect x="408" y="473" width="1" height="2" fill="#a88080"/><rect x="408" y="795" width="1" height="2" fill="#a88080"/><rect x="408" y="808" width="1" height="1" fill="#ece6e6"/><rect x="432" y="461" width="1" height="2" fill="#a88080"/><rect x="432" y="473" width="1" height="2" fill="#a88080"/><rect x="432" y="795" width="1" height="2" fill="#a88080"/><rect x="432" y="808" width="1" height="1" fill="#ece6e6"/><rect x="455" y="461" width="1" height="2" fill="#a88080"/><rect x="455" y="473" width="1" height="2" fill="#a88080"/><rect x="455" y="795" width="1" height="2" fill="#a88080"/><rect x="455" y="808" width="1" height="1" fill="#ece6e6"/><rect x="478" y="461" width="1" height="2" fill="#a88080"/><rect x="478" y="473" width="1" height="2" fill="#a88080"/><rect x="478" y="795" width="1" height="2" fill="#a88080"/><rect x="478" y="808" width="1" height="1" fill="#ece6e6"/><rect x="504" y="461" width="1" height="2" fill="#a88080"/><rect x="504" y="473" width="1" height="2" fill="#a88080"/><rect x="504" y="795" width="1" height="2" fill="#a88080"/><rect x="504" y="808" width="1" height="1" fill="#ece6e6"/><rect x="525" y="461" width="1" height="2" fill="#a88080"/><rect x="525" y="473" width="1" height="2" fill="#a88080"/><rect x="525" y="795" width="1" height="2" fill="#a88080"/><rect x="525" y="808" width="1" height="1" fill="#ece6e6"/><rect x="549" y="461" width="1" height="2" fill="#a88080"/><rect x="549" y="473" width="1" height="2" fill="#a88080"/><rect x="549" y="795" width="1" height="2" fill="#a88080"/><rect x="549" y="808" width="1" height="1" fill="#ece6e6"/><rect x="571" y="461" width="1" height="2" fill="#a88080"/><rect x="571" y="473" width="1" height="2" fill="#a88080"/><rect x="571" y="795" width="1" height="2" fill="#a88080"/><rect x="571" y="808" width="1" height="1" fill="#ece6e6"/><rect x="592" y="461" width="1" height="2" fill="#a88080"/><rect x="592" y="473" width="1" height="2" fill="#a88080"/><rect x="592" y="795" width="1" height="2" fill="#a88080"/><rect x="592" y="808" width="1" height="1" fill="#ece6e6"/><rect x="616" y="461" width="1" height="2" fill="#a88080"/><rect x="616" y="473" width="1" height="2" fill="#a88080"/><rect x="616" y="795" width="1" height="2" fill="#a88080"/><rect x="616" y="808" width="1" height="1" fill="#ece6e6"/><rect x="639" y="461" width="1" height="2" fill="#a88080"/><rect x="639" y="473" width="1" height="2" fill="#a88080"/><rect x="639" y="795" width="1" height="2" fill="#a88080"/><rect x="639" y="808" width="1" height="1" fill="#ece6e6"/><rect x="661" y="461" width="1" height="2" fill="#a88080"/><rect x="661" y="473" width="1" height="2" fill="#a88080"/><rect x="661" y="795" width="1" height="2" fill="#a88080"/><rect x="661" y="808" width="1" height="1" fill="#ece6e6"/><rect x="686" y="461" width="1" height="2" fill="#a88080"/><rect x="686" y="473" width="1" height="2" fill="#a88080"/><rect x="686" y="795" width="1" height="2" fill="#a88080"/><rect x="686" y="808" width="1" height="1" fill="#ece6e6"/><rect x="710" y="461" width="1" height="2" fill="#a88080"/><rect x="710" y="473" width="1" height="2" fill="#a88080"/><rect x="710" y="795" width="1" height="2" fill="#a88080"/><rect x="710" y="808" width="1" height="1" fill="#ece6e6"/><rect x="737" y="134" width="1" height="1" fill="#a88080"/><rect x="737" y="125" width="2" height="1" fill="#a88080"/><rect x="737" y="115" width="1" height="1" fill="#a88080"/><rect x="737" y="105" width="2" height="1" fill="#a88080"/><rect x="737" y="95" width="1" height="1" fill="#a88080"/><rect x="737" y="85" width="2" height="1" fill="#a88080"/><rect x="737" y="76" width="1" height="1" fill="#a88080"/><rect x="737" y="66" width="2" height="1" fill="#a88080"/><rect x="737" y="56" width="1" height="1" fill="#a88080"/><rect x="737" y="46" width="2" height="1" fill="#a88080"/><rect x="737" y="36" width="1" height="1" fill="#a88080"/><rect x="737" y="130" width="1" height="1" fill="#a88080"/><rect x="737" y="120" width="1" height="1" fill="#a88080"/><rect x="737" y="110" width="1" height="1" fill="#a88080"/><rect x="737" y="100" width="1" height="1" fill="#a88080"/><rect x="737" y="90" width="1" height="1" fill="#a88080"/><rect x="737" y="81" width="1" height="1" fill="#a88080"/><rect x="737" y="71" width="1" height="1" fill="#a88080"/><rect x="737" y="61" width="1" height="1" fill="#a88080"/><rect x="737" y="51" width="1" height="1" fill="#a88080"/><rect x="737" y="41" width="1" height="1" fill="#a88080"/><rect x="737" y="31" width="1" height="1" fill="#a88080"/><rect x="737" y="455" width="1" height="1" fill="#a88080"/><rect x="737" y="450" width="1" height="1" fill="#a88080"/><rect x="737" y="445" width="1" height="1" fill="#a88080"/><rect x="737" y="440" width="2" height="1" fill="#a88080"/><rect x="737" y="435" width="1" height="1" fill="#a88080"/><rect x="737" y="430" width="1" height="1" fill="#a88080"/><rect x="737" y="425" width="1" height="1" fill="#a88080"/><rect x="737" y="420" width="1" height="1" fill="#a88080"/><rect x="737" y="415" width="2" height="1" fill="#a88080"/><rect x="737" y="410" width="1" height="1" fill="#a88080"/><rect x="737" y="405" width="1" height="1" fill="#a88080"/><rect x="737" y="400" width="1" height="1" fill="#a88080"/><rect x="737" y="395" width="1" height="1" fill="#a88080"/><rect x="737" y="390" width="2" height="1" fill="#a88080"/><rect x="737" y="385" width="1" height="1" fill="#a88080"/><rect x="737" y="380" width="1" height="1" fill="#a88080"/><rect x="737" y="375" width="1" height="1" fill="#a88080"/><rect x="737" y="370" width="1" height="1" fill="#a88080"/><rect x="737" y="365" width="2" height="1" fill="#a88080"/><rect x="737" y="360" width="1" height="1" fill="#a88080"/><rect x="737" y="355" width="1" height="1" fill="#a88080"/><rect x="737" y="351" width="1" height="1" fill="#a88080"/><rect x="737" y="346" width="1" height="1" fill="#a88080"/><rect x="737" y="341" width="2" height="1" fill="#a88080"/><rect x="737" y="336" width="1" height="1" fill="#a88080"/><rect x="737" y="331" width="1" height="1" fill="#a88080"/><rect x="737" y="326" width="1" height="1" fill="#a88080"/><rect x="737" y="321" width="1" height="1" fill="#a88080"/><rect x="737" y="316" width="2" height="1" fill="#a88080"/><rect x="737" y="311" width="1" height="1" fill="#a88080"/><rect x="737" y="306" width="1" height="1" fill="#a88080"/><rect x="737" y="301" width="1" height="1" fill="#a88080"/><rect x="737" y="296" width="1" height="1" fill="#a88080"/><rect x="737" y="291" width="2" height="1" fill="#a88080"/><rect x="737" y="286" width="1" height="1" fill="#a88080"/><rect x="737" y="281" width="1" height="1" fill="#a88080"/><rect x="737" y="276" width="1" height="1" fill="#a88080"/><rect x="737" y="271" width="1" height="1" fill="#a88080"/><rect x="737" y="266" width="2" height="1" fill="#a88080"/><rect x="737" y="261" width="1" height="1" fill="#a88080"/><rect x="737" y="256" width="1" height="1" fill="#a88080"/><rect x="737" y="251" width="1" height="1" fill="#a88080"/><rect x="737" y="246" width="1" height="1" fill="#a88080"/><rect x="737" y="241" width="2" height="1" fill="#a88080"/><rect x="737" y="236" width="1" height="1" fill="#a88080"/><rect x="737" y="231" width="1" height="1" fill="#a88080"/><rect x="737" y="226" width="1" height="1" fill="#a88080"/><rect x="737" y="221" width="1" height="1" fill="#a88080"/><rect x="737" y="216" width="2" height="1" fill="#a88080"/><rect x="737" y="211" width="1" height="1" fill="#a88080"/><rect x="737" y="206" width="1" height="1" fill="#a88080"/><rect x="737" y="202" width="1" height="1" fill="#a88080"/><rect x="737" y="197" width="1" height="1" fill="#a88080"/><rect x="737" y="192" width="2" height="1" fill="#a88080"/><rect x="737" y="187" width="1" height="1" fill="#a88080"/><rect x="737" y="182" width="1" height="1" fill="#a88080"/><rect x="737" y="177" width="1" height="1" fill="#a88080"/><rect x="737" y="172" width="1" height="1" fill="#a88080"/><rect x="737" y="167" width="2" height="1" fill="#a88080"/><rect x="737" y="162" width="1" height="1" fill="#a88080"/><rect x="737" y="157" width="1" height="1" fill="#a88080"/><rect x="737" y="152" width="1" height="1" fill="#a88080"/><rect x="737" y="147" width="1" height="1" fill="#a88080"/><rect x="737" y="790" width="1" height="1" fill="#a88080"/><rect x="737" y="785" width="1" height="1" fill="#a88080"/><rect x="737" y="780" width="1" height="1" fill="#a88080"/><rect x="737" y="775" width="1" height="1" fill="#a88080"/><rect x="737" y="770" width="2" height="1" fill="#a88080"/><rect x="737" y="765" width="1" height="1" fill="#a88080"/><rect x="737" y="760" width="1" height="1" fill="#a88080"/><rect x="737" y="755" width="1" height="1" fill="#a88080"/><rect x="737" y="750" width="1" height="1" fill="#a88080"/><rect x="737" y="745" width="2" height="1" fill="#a88080"/><rect x="737" y="740" width="1" height="1" fill="#a88080"/><rect x="737" y="735" width="1" height="1" fill="#a88080"/><rect x="737" y="729" width="1" height="1" fill="#a88080"/><rect x="737" y="724" width="1" height="1" fill="#a88080"/><rect x="737" y="719" width="2" height="1" fill="#a88080"/><rect x="737" y="714" width="1" height="1" fill="#a88080"/><rect x="737" y="709" width="1" height="1" fill="#a88080"/><rect x="737" y="704" width="1" height="1" fill="#a88080"/><rect x="737" y="699" width="1" height="1" fill="#a88080"/><rect x="737" y="694" width="2" height="1" fill="#a88080"/><rect x="737" y="689" width="1" height="1" fill="#a88080"/><rect x="737" y="684" width="1" height="1" fill="#a88080"/><rect x="737" y="679" width="1" height="1" fill="#a88080"/><rect x="737" y="674" width="1" height="1" fill="#a88080"/><rect x="737" y="669" width="2" height="1" fill="#a88080"/><rect x="737" y="664" width="1" height="1" fill="#a88080"/><rect x="737" y="659" width="1" height="1" fill="#a88080"/><rect x="737" y="653" width="1" height="1" fill="#a88080"/><rect x="737" y="648" width="1" height="1" fill="#a88080"/><rect x="737" y="643" width="2" height="1" fill="#a88080"/><rect x="737" y="638" width="1" height="1" fill="#a88080"/><rect x="737" y="633" width="1" height="1" fill="#a88080"/><rect x="737" y="628" width="1" height="1" fill="#a88080"/><rect x="737" y="623" width="1" height="1" fill="#a88080"/><rect x="737" y="618" width="2" height="1" fill="#a88080"/><rect x="737" y="613" width="1" height="1" fill="#a88080"/><rect x="737" y="608" width="1" height="1" fill="#a88080"/><rect x="737" y="602" width="1" height="1" fill="#a88080"/><rect x="737" y="597" width="1" height="1" fill="#a88080"/><rect x="737" y="592" width="2" height="1" fill="#a88080"/><rect x="737" y="587" width="1" height="1" fill="#a88080"/><rect x="737" y="582" width="1" height="1" fill="#a88080"/><rect x="737" y="577" width="1" height="1" fill="#a88080"/><rect x="737" y="572" width="1" height="1" fill="#a88080"/><rect x="737" y="567" width="2" height="1" fill="#a88080"/><rect x="737" y="562" width="1" height="1" fill="#a88080"/><rect x="737" y="557" width="1" height="1" fill="#a88080"/><rect x="737" y="552" width="1" height="1" fill="#a88080"/><rect x="737" y="547" width="1" height="1" fill="#a88080"/><rect x="737" y="542" width="2" height="1" fill="#a88080"/><rect x="737" y="537" width="1" height="1" fill="#a88080"/><rect x="737" y="532" width="1" height="1" fill="#a88080"/><rect x="737" y="526" width="1" height="1" fill="#a88080"/><rect x="737" y="521" width="1" height="1" fill="#a88080"/><rect x="737" y="516" width="2" height="1" fill="#a88080"/><rect x="737" y="511" width="1" height="1" fill="#a88080"/><rect x="737" y="506" width="1" height="1" fill="#a88080"/><rect x="737" y="501" width="1" height="1" fill="#a88080"/><rect x="737" y="496" width="1" height="1" fill="#a88080"/><rect x="737" y="491" width="2" height="1" fill="#a88080"/><rect x="737" y="486" width="1" height="1" fill="#a88080"/></g>
<g fill="#000"><text x="740" y="50.0" font-size="10">90</text><text x="740" y="70.0" font-size="10">70</text><text x="740" y="89.0" font-size="10">50</text><text x="740" y="109.0" font-size="10">30</text><text x="740" y="129.0" font-size="10">10</text><text x="740" y="444.1" font-size="10">1100</text><text x="740" y="419.1" font-size="10">1150</text><text x="740" y="394.1" font-size="10">1200</text><text x="740" y="369.1" font-size="10">1250</text><text x="740" y="345.1" font-size="10">1300</text><text x="740" y="320.1" font-size="10">1350</text><text x="740" y="295.1" font-size="10">1400</text><text x="740" y="270.1" font-size="10">1450</text><text x="740" y="245.1" font-size="10">1500</text><text x="740" y="220.1" font-size="10">1550</text><text x="740" y="196.1" font-size="10">1600</text><text x="740" y="171.1" font-size="10">1650</text><text x="740" y="774.1" font-size="10">125</text><text x="740" y="749.1" font-size="10">150</text><text x="740" y="723.1" font-size="10">175</text><text x="740" y="698.1" font-size="10">200</text><text x="740" y="673.1" font-size="10">225</text><text x="740" y="647.1" font-size="10">250</text><text x="740" y="622.1" font-size="10">275</text><text x="740" y="596.1" font-size="10">300</text><text x="740" y="571.1" font-size="10">325</text><text x="740" y="546.1" font-size="10">350</text><text x="740" y="520.1" font-size="10">375</text><text x="740" y="495.1" font-size="10">400</text></g>
<g fill="#000"><text x="16.5" y="471.8" font-size="9.4" text-anchor="middle" letter-spacing="0.6">Feb</text><text x="37.5" y="471.8" font-size="9.4" text-anchor="middle" letter-spacing="0.6">Mar</text><text x="59.5" y="471.8" font-size="9.4" text-anchor="middle" letter-spacing="0.6">Apr</text><text x="83.5" y="471.8" font-size="9.4" text-anchor="middle" letter-spacing="0.6">May</text><text x="108.5" y="471.8" font-size="9.4" text-anchor="middle" letter-spacing="0.6">Jun</text><text x="130.5" y="471.8" font-size="9.4" text-anchor="middle" letter-spacing="0.6">Jul</text><text x="154.5" y="471.8" font-size="9.4" text-anchor="middle" letter-spacing="0.6">Aug</text><text x="178.5" y="471.8" font-size="9.4" text-anchor="middle" letter-spacing="0.6">Sep</text><text x="200.5" y="471.8" font-size="9.4" text-anchor="middle" letter-spacing="0.6">Oct</text><text x="226.5" y="471.8" font-size="9.4" text-anchor="middle" letter-spacing="0.6">Nov</text><text x="248.5" y="471.8" font-size="9.4" text-anchor="middle" letter-spacing="0.6">Dec</text><text x="271.5" y="472.0" font-size="11" font-weight="bold" text-anchor="middle" textLength="24" lengthAdjust="spacingAndGlyphs">2014</text><text x="294.5" y="471.8" font-size="9.4" text-anchor="middle" letter-spacing="0.6">Feb</text><text x="315.5" y="471.8" font-size="9.4" text-anchor="middle" letter-spacing="0.6">Mar</text><text x="338.5" y="471.8" font-size="9.4" text-anchor="middle" letter-spacing="0.6">Apr</text><text x="361.5" y="471.8" font-size="9.4" text-anchor="middle" letter-spacing="0.6">May</text><text x="385.5" y="471.8" font-size="9.4" text-anchor="middle" letter-spacing="0.6">Jun</text><text x="408.5" y="471.8" font-size="9.4" text-anchor="middle" letter-spacing="0.6">Jul</text><text x="432.5" y="471.8" font-size="9.4" text-anchor="middle" letter-spacing="0.6">Aug</text><text x="455.5" y="471.8" font-size="9.4" text-anchor="middle" letter-spacing="0.6">Sep</text><text x="478.5" y="471.8" font-size="9.4" text-anchor="middle" letter-spacing="0.6">Oct</text><text x="504.5" y="471.8" font-size="9.4" text-anchor="middle" letter-spacing="0.6">Nov</text><text x="525.5" y="471.8" font-size="9.4" text-anchor="middle" letter-spacing="0.6">Dec</text><text x="549.5" y="472.0" font-size="11" font-weight="bold" text-anchor="middle" textLength="24" lengthAdjust="spacingAndGlyphs">2015</text><text x="571.5" y="471.8" font-size="9.4" text-anchor="middle" letter-spacing="0.6">Feb</text><text x="592.5" y="471.8" font-size="9.4" text-anchor="middle" letter-spacing="0.6">Mar</text><text x="616.5" y="471.8" font-size="9.4" text-anchor="middle" letter-spacing="0.6">Apr</text><text x="639.5" y="471.8" font-size="9.4" text-anchor="middle" letter-spacing="0.6">May</text><text x="661.5" y="471.8" font-size="9.4" text-anchor="middle" letter-spacing="0.6">Jun</text><text x="686.5" y="471.8" font-size="9.4" text-anchor="middle" letter-spacing="0.6">Jul</text><text x="710.5" y="471.8" font-size="9.4" text-anchor="middle" letter-spacing="0.6">Aug</text><text x="16.5" y="805" font-size="9.4" text-anchor="middle" letter-spacing="0.6">Feb</text><text x="37.5" y="805" font-size="9.4" text-anchor="middle" letter-spacing="0.6">Mar</text><text x="59.5" y="805" font-size="9.4" text-anchor="middle" letter-spacing="0.6">Apr</text><text x="83.5" y="805" font-size="9.4" text-anchor="middle" letter-spacing="0.6">May</text><text x="108.5" y="805" font-size="9.4" text-anchor="middle" letter-spacing="0.6">Jun</text><text x="130.5" y="805" font-size="9.4" text-anchor="middle" letter-spacing="0.6">Jul</text><text x="154.5" y="805" font-size="9.4" text-anchor="middle" letter-spacing="0.6">Aug</text><text x="178.5" y="805" font-size="9.4" text-anchor="middle" letter-spacing="0.6">Sep</text><text x="200.5" y="805" font-size="9.4" text-anchor="middle" letter-spacing="0.6">Oct</text><text x="226.5" y="805" font-size="9.4" text-anchor="middle" letter-spacing="0.6">Nov</text><text x="248.5" y="805" font-size="9.4" text-anchor="middle" letter-spacing="0.6">Dec</text><text x="271.5" y="805.2" font-size="11" font-weight="bold" text-anchor="middle" textLength="24" lengthAdjust="spacingAndGlyphs">2014</text><text x="294.5" y="805" font-size="9.4" text-anchor="middle" letter-spacing="0.6">Feb</text><text x="315.5" y="805" font-size="9.4" text-anchor="middle" letter-spacing="0.6">Mar</text><text x="338.5" y="805" font-size="9.4" text-anchor="middle" letter-spacing="0.6">Apr</text><text x="361.5" y="805" font-size="9.4" text-anchor="middle" letter-spacing="0.6">May</text><text x="385.5" y="805" font-size="9.4" text-anchor="middle" letter-spacing="0.6">Jun</text><text x="408.5" y="805" font-size="9.4" text-anchor="middle" letter-spacing="0.6">Jul</text><text x="432.5" y="805" font-size="9.4" text-anchor="middle" letter-spacing="0.6">Aug</text><text x="455.5" y="805" font-size="9.4" text-anchor="middle" letter-spacing="0.6">Sep</text><text x="478.5" y="805" font-size="9.4" text-anchor="middle" letter-spacing="0.6">Oct</text><text x="504.5" y="805" font-size="9.4" text-anchor="middle" letter-spacing="0.6">Nov</text><text x="525.5" y="805" font-size="9.4" text-anchor="middle" letter-spacing="0.6">Dec</text><text x="549.5" y="805.2" font-size="11" font-weight="bold" text-anchor="middle" textLength="24" lengthAdjust="spacingAndGlyphs">2015</text><text x="571.5" y="805" font-size="9.4" text-anchor="middle" letter-spacing="0.6">Feb</text><text x="592.5" y="805" font-size="9.4" text-anchor="middle" letter-spacing="0.6">Mar</text><text x="616.5" y="805" font-size="9.4" text-anchor="middle" letter-spacing="0.6">Apr</text><text x="639.5" y="805" font-size="9.4" text-anchor="middle" letter-spacing="0.6">May</text><text x="661.5" y="805" font-size="9.4" text-anchor="middle" letter-spacing="0.6">Jun</text><text x="686.5" y="805" font-size="9.4" text-anchor="middle" letter-spacing="0.6">Jul</text><text x="710.5" y="805" font-size="9.4" text-anchor="middle" letter-spacing="0.6">Aug</text></g>
<g fill="#000"><text x="31.6" y="40.2" font-size="10.6" textLength="78.5" lengthAdjust="spacing">RSI(10) 30.97</text><text x="32.3" y="152.5" font-size="10.6" textLength="126.8" lengthAdjust="spacing">$GOLD (Daily) 1095.00</text><text x="31.6" y="486.2" font-size="10.6" textLength="69.6" lengthAdjust="spacing">$HUI 111.73</text></g>
<path d="M19.3,39.6 V37.2 L20.6,35.6 L21.6,33.6 L22.6,32.4 L23.4,31.4 L24.4,34.6 L25.4,37 L26.4,35.2 L27.4,33.4 V39.6 Z" fill="#6c8c44"/>
<path d="M19.3,39.6 V37.2 L20.6,35.6 L21.6,33.6 L22.6,32.4 L23.4,31.4 L24.4,34.6 L25.4,37 L26.4,35.2 L27.4,33.4 V39.6" fill="none" stroke="#000" stroke-width="1.1"/>
<g shape-rendering="crispEdges"><rect x="20" y="144" width="1" height="7" fill="#000"/><rect x="19" y="145" width="3" height="4" fill="#000"/><rect x="20" y="146" width="1" height="2" fill="#e2c89c"/><rect x="22" y="147" width="3" height="4" fill="#000"/><rect x="23" y="151" width="1" height="1" fill="#000"/><rect x="25" y="145" width="3" height="6" fill="#000"/><rect x="26" y="144" width="1" height="8" fill="#000"/><rect x="26" y="146" width="1" height="4" fill="#e2c89c"/></g>
<g shape-rendering="crispEdges"><rect x="20" y="478" width="1" height="7" fill="#d40032"/><rect x="19" y="479" width="3" height="4" fill="#d40032"/><rect x="20" y="480" width="1" height="2" fill="#f6f1cc"/><rect x="22" y="481" width="3" height="4" fill="#d40032"/><rect x="23" y="485" width="1" height="1" fill="#d40032"/><rect x="25" y="479" width="3" height="6" fill="#d40032"/><rect x="26" y="478" width="1" height="8" fill="#d40032"/><rect x="26" y="480" width="1" height="4" fill="#f6f1cc"/></g>
<g fill="#000"><text x="16.8" y="14.9" font-size="13.7" font-weight="bold" textLength="41.8" lengthAdjust="spacingAndGlyphs">$GOLD</text><text x="63.8" y="14.4" font-size="11" textLength="112.5" lengthAdjust="spacingAndGlyphs">Gold - Spot Price (EOD)</text><text x="182.1" y="14.3" font-size="9.5" textLength="21.2" lengthAdjust="spacingAndGlyphs">CME</text><text x="16.4" y="26.4" font-size="10" textLength="54.5" lengthAdjust="spacingAndGlyphs">31-Jul-2015</text><text x="646.9" y="13.8" font-size="10.5" fill="#333" textLength="89.3" lengthAdjust="spacingAndGlyphs">© StockCharts.com</text></g>
<g fill="#000"><text x="241.8" y="26.6" font-size="11" font-weight="bold" textLength="28.5" lengthAdjust="spacingAndGlyphs">Open</text><text x="274.9" y="26.6" font-size="10" textLength="36.9" lengthAdjust="spacingAndGlyphs">1087.70</text><text x="318.8" y="26.6" font-size="11" font-weight="bold" textLength="23.8" lengthAdjust="spacingAndGlyphs">High</text><text x="346.7" y="26.6" font-size="10" textLength="37.3" lengthAdjust="spacingAndGlyphs">1103.00</text><text x="391" y="26.6" font-size="11" font-weight="bold" textLength="22.5" lengthAdjust="spacingAndGlyphs">Low</text><text x="418.3" y="26.6" font-size="10" textLength="38.4" lengthAdjust="spacingAndGlyphs">1079.20</text><text x="462.9" y="26.6" font-size="11" font-weight="bold" textLength="31.6" lengthAdjust="spacingAndGlyphs">Close</text><text x="498.8" y="26.6" font-size="10" textLength="37.2" lengthAdjust="spacingAndGlyphs">1095.00</text><text x="543.3" y="26.6" font-size="11" font-weight="bold" textLength="41.7" lengthAdjust="spacingAndGlyphs">Volume</text><text x="590" y="26.6" font-size="10" textLength="33.3" lengthAdjust="spacingAndGlyphs">166.8K</text><text x="628.7" y="26.6" font-size="11" font-weight="bold" textLength="21.5" lengthAdjust="spacingAndGlyphs">Chg</text><text x="653.8" y="26.6" font-size="10" textLength="71.8" lengthAdjust="spacingAndGlyphs">+7.10 (+0.65%)</text></g>
<path d="M729,25.5 L732.3,21.5 L735.6,25.5 Z" fill="#2e6b2e"/>
<path d="M307.5,503.5 H582.5 L693,437 L588.5,509.5 V587.5 L690,767.5 L583,593.5 H307.5 Z" transform="translate(2.5,2.5)" fill="rgba(40,30,0,0.22)"/>
<path d="M307.5,503.5 H582.5 L693,437 L588.5,509.5 V587.5 L690,767.5 L583,593.5 H307.5 Z" fill="#fff" stroke="#808080" stroke-width="1" stroke-linejoin="miter"/>
<g fill="#0000ff"><text x="310.5" y="522.9" font-size="16" font-weight="bold" textLength="270.4" lengthAdjust="spacingAndGlyphs">We have all the signs of capitulation</text><text x="310.5" y="543.8" font-size="16" font-weight="bold" textLength="272.4" lengthAdjust="spacingAndGlyphs">type panic, indicative of a bloodbath</text><text x="310.5" y="564.6" font-size="16" font-weight="bold" textLength="224.5" lengthAdjust="spacingAndGlyphs">phase when a major technical</text><text x="310.5" y="585.4" font-size="16" font-weight="bold" textLength="142.3" lengthAdjust="spacingAndGlyphs">support gives way.</text></g>
</svg></body></html>
